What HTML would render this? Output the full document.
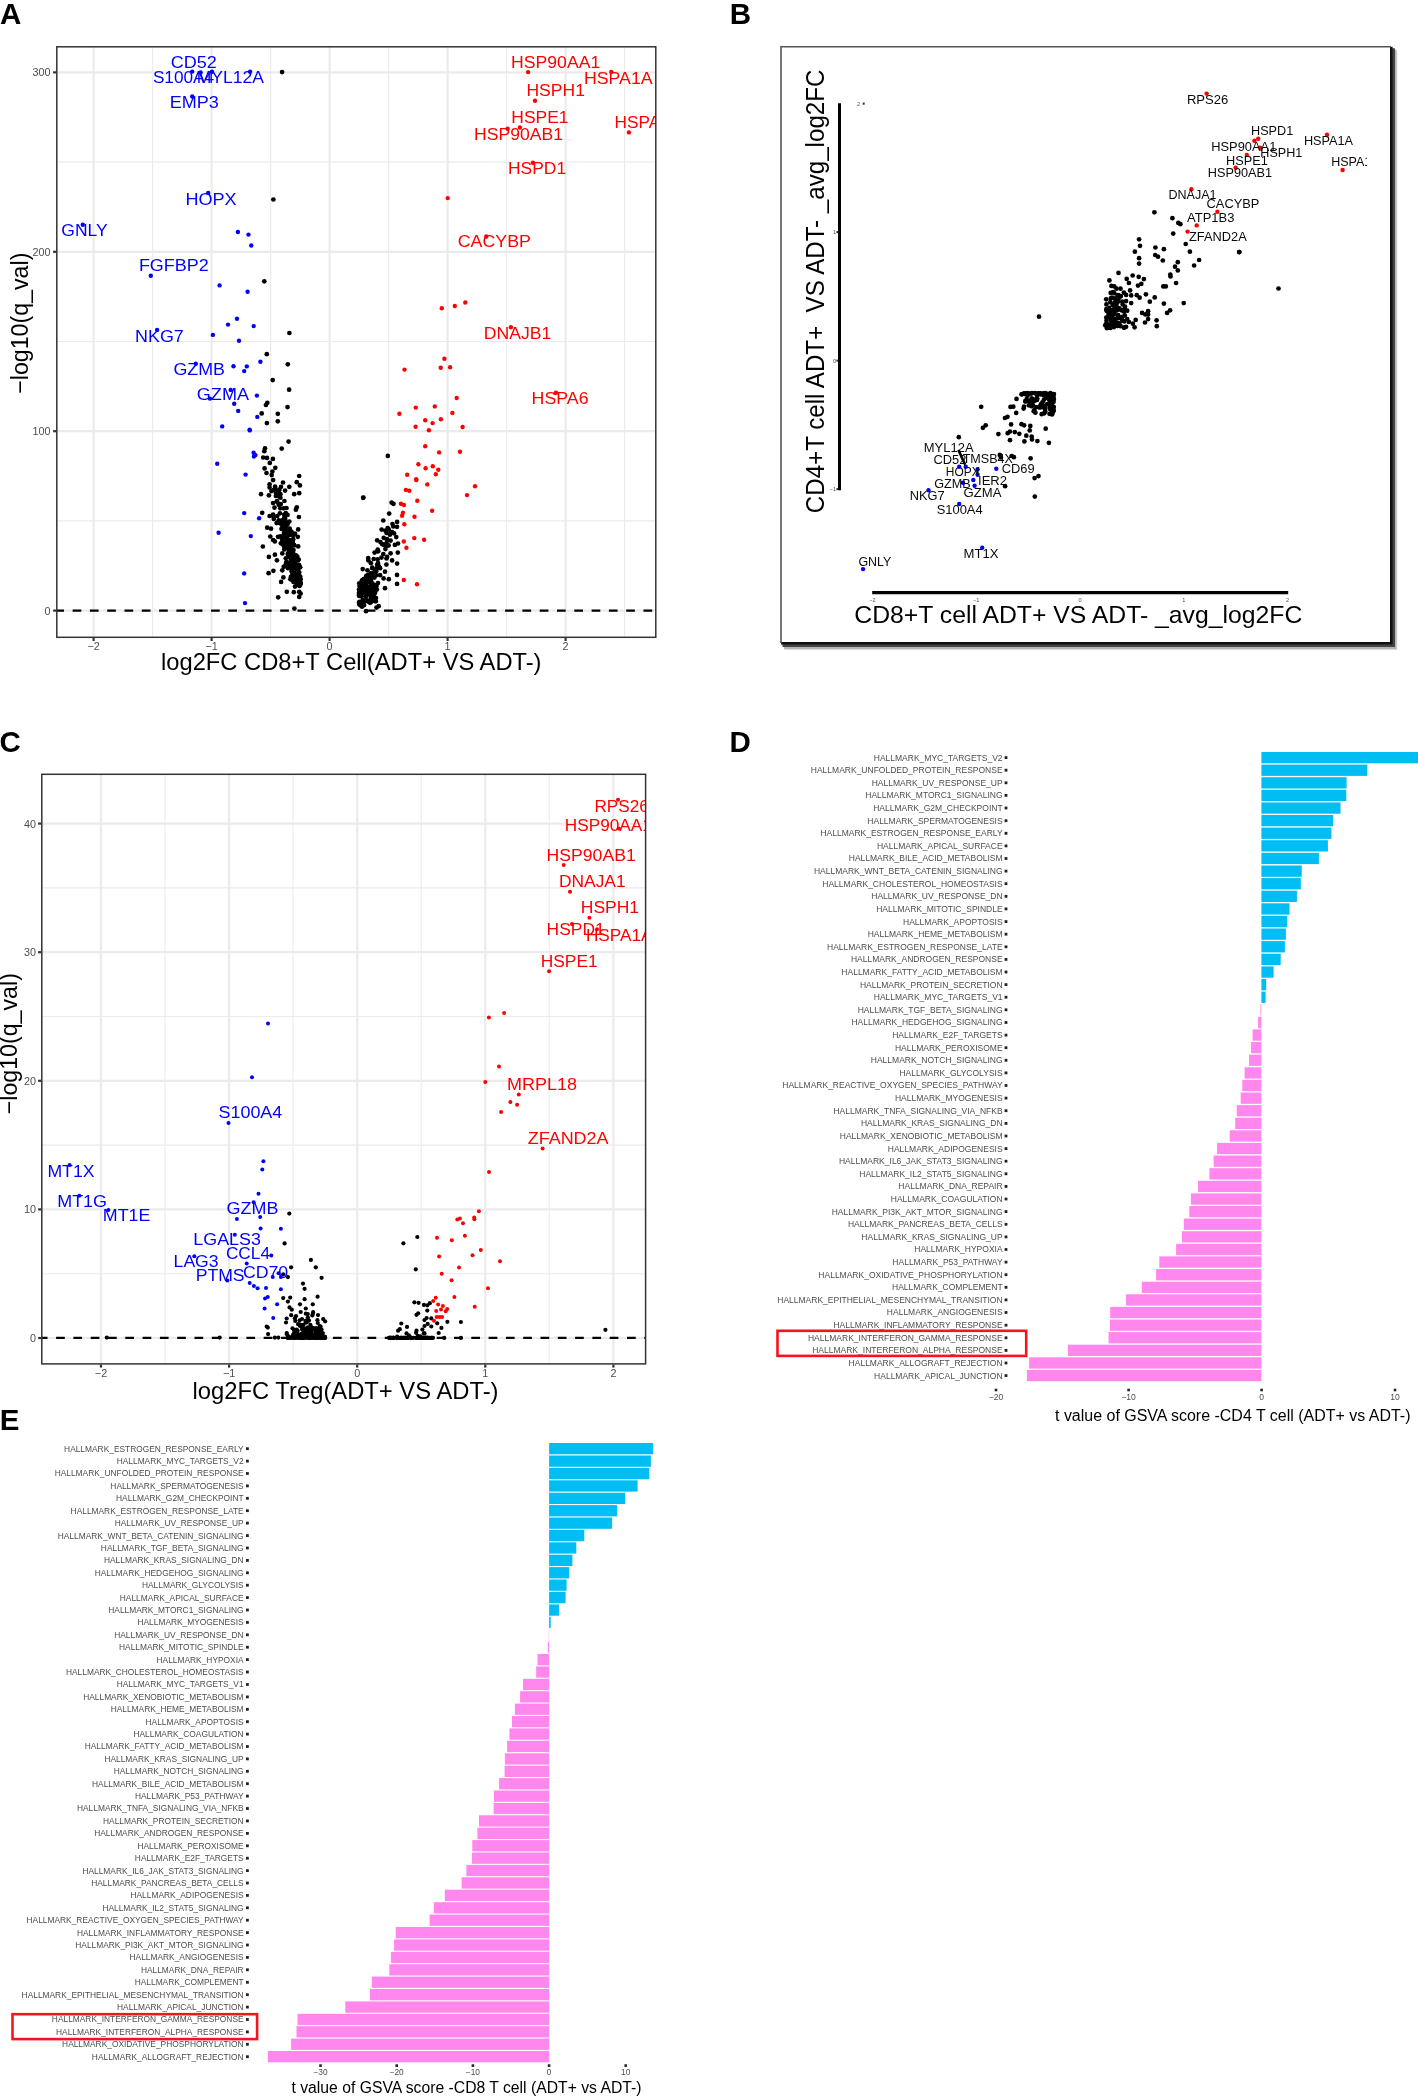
<!DOCTYPE html>
<html><head><meta charset="utf-8"><title>Figure</title><style>html,body{margin:0;padding:0;background:#fff}svg{display:block;will-change:transform}</style></head><body>
<svg width="1418" height="2096" viewBox="0 0 1418 2096" font-family="'Liberation Sans', Arial, Helvetica, sans-serif">
<rect width="1418" height="2096" fill="#fff"/>
<text x="-0.1" y="24.4" font-size="29.5" fill="#000" font-weight="bold">A</text>
<text x="729.8" y="24.4" font-size="29.5" fill="#000" font-weight="bold">B</text>
<text x="-0.4" y="751.6" font-size="29.5" fill="#000" font-weight="bold">C</text>
<text x="729.6" y="751.5" font-size="29.5" fill="#000" font-weight="bold">D</text>
<text x="-0.3" y="1429.6" font-size="29.5" fill="#000" font-weight="bold">E</text>
<clipPath id="clipA"><rect x="56.8" y="46.8" width="599.0" height="590.5"/></clipPath>
<g clip-path="url(#clipA)">
<g stroke="#ebebeb" fill="none"><path d="M152.6 46.8V637.3" stroke-width="1.1"/><path d="M270.6 46.8V637.3" stroke-width="1.1"/><path d="M388.6 46.8V637.3" stroke-width="1.1"/><path d="M506.6 46.8V637.3" stroke-width="1.1"/><path d="M624.6 46.8V637.3" stroke-width="1.1"/><path d="M56.8 520.9H655.8" stroke-width="1.1"/><path d="M56.8 341.5H655.8" stroke-width="1.1"/><path d="M56.8 162.1H655.8" stroke-width="1.1"/><path d="M93.6 46.8V637.3" stroke-width="2.2"/><path d="M211.6 46.8V637.3" stroke-width="2.2"/><path d="M329.6 46.8V637.3" stroke-width="2.2"/><path d="M447.6 46.8V637.3" stroke-width="2.2"/><path d="M565.6 46.8V637.3" stroke-width="2.2"/><path d="M56.8 610.6H655.8" stroke-width="2.2"/><path d="M56.8 431.2H655.8" stroke-width="2.2"/><path d="M56.8 251.8H655.8" stroke-width="2.2"/><path d="M56.8 72.4H655.8" stroke-width="2.2"/></g>
</g>
<g clip-path="url(#clipA)">
<path d="M55.3 610.6H655.8" stroke="#000" stroke-width="2.1" stroke-dasharray="8.7 8.6" fill="none"/>
<g fill="#000000"><circle cx="297.8" cy="569.2" r="2.35"/><circle cx="299.1" cy="582.2" r="2.35"/><circle cx="298.3" cy="567.0" r="2.35"/><circle cx="299.5" cy="584.1" r="2.35"/><circle cx="295.1" cy="563.5" r="2.35"/><circle cx="294.5" cy="563.9" r="2.35"/><circle cx="291.1" cy="543.0" r="2.35"/><circle cx="293.3" cy="553.4" r="2.35"/><circle cx="285.1" cy="536.7" r="2.35"/><circle cx="286.2" cy="535.2" r="2.35"/><circle cx="299.8" cy="583.6" r="2.35"/><circle cx="294.7" cy="578.5" r="2.35"/><circle cx="295.0" cy="579.9" r="2.35"/><circle cx="299.0" cy="576.6" r="2.35"/><circle cx="288.5" cy="552.8" r="2.35"/><circle cx="300.5" cy="582.7" r="2.35"/><circle cx="294.7" cy="575.3" r="2.35"/><circle cx="291.8" cy="569.7" r="2.35"/><circle cx="289.3" cy="555.6" r="2.35"/><circle cx="290.6" cy="544.7" r="2.35"/><circle cx="291.0" cy="549.7" r="2.35"/><circle cx="297.2" cy="558.7" r="2.35"/><circle cx="288.5" cy="540.5" r="2.35"/><circle cx="284.9" cy="535.0" r="2.35"/><circle cx="292.2" cy="579.9" r="2.35"/><circle cx="299.6" cy="578.1" r="2.35"/><circle cx="298.0" cy="560.6" r="2.35"/><circle cx="291.3" cy="546.2" r="2.35"/><circle cx="294.3" cy="556.2" r="2.35"/><circle cx="288.8" cy="549.8" r="2.35"/><circle cx="288.7" cy="555.1" r="2.35"/><circle cx="287.5" cy="542.3" r="2.35"/><circle cx="283.2" cy="536.9" r="2.35"/><circle cx="298.6" cy="582.8" r="2.35"/><circle cx="284.3" cy="549.5" r="2.35"/><circle cx="280.9" cy="543.3" r="2.35"/><circle cx="291.6" cy="571.2" r="2.35"/><circle cx="299.3" cy="584.8" r="2.35"/><circle cx="297.5" cy="577.3" r="2.35"/><circle cx="290.8" cy="546.1" r="2.35"/><circle cx="297.1" cy="579.3" r="2.35"/><circle cx="292.3" cy="540.7" r="2.35"/><circle cx="293.5" cy="581.8" r="2.35"/><circle cx="290.1" cy="540.1" r="2.35"/><circle cx="291.3" cy="543.4" r="2.35"/><circle cx="291.9" cy="564.4" r="2.35"/><circle cx="300.2" cy="567.3" r="2.35"/><circle cx="290.9" cy="576.8" r="2.35"/><circle cx="296.4" cy="573.9" r="2.35"/><circle cx="295.9" cy="555.4" r="2.35"/><circle cx="299.2" cy="572.3" r="2.35"/><circle cx="294.5" cy="566.8" r="2.35"/><circle cx="297.3" cy="556.6" r="2.35"/><circle cx="291.3" cy="559.2" r="2.35"/><circle cx="291.2" cy="553.9" r="2.35"/><circle cx="287.6" cy="539.2" r="2.35"/><circle cx="294.2" cy="545.4" r="2.35"/><circle cx="289.9" cy="565.6" r="2.35"/><circle cx="297.9" cy="565.3" r="2.35"/><circle cx="300.5" cy="582.8" r="2.35"/><circle cx="297.8" cy="575.1" r="2.35"/><circle cx="300.6" cy="583.3" r="2.35"/><circle cx="299.4" cy="586.0" r="2.35"/><circle cx="295.8" cy="567.1" r="2.35"/><circle cx="300.3" cy="584.7" r="2.35"/><circle cx="292.4" cy="572.9" r="2.35"/><circle cx="293.5" cy="567.9" r="2.35"/><circle cx="290.5" cy="541.9" r="2.35"/><circle cx="283.8" cy="534.4" r="2.35"/><circle cx="298.4" cy="581.5" r="2.35"/><circle cx="295.9" cy="580.7" r="2.35"/><circle cx="291.6" cy="542.9" r="2.35"/><circle cx="299.1" cy="577.6" r="2.35"/><circle cx="298.1" cy="578.4" r="2.35"/><circle cx="296.6" cy="557.8" r="2.35"/><circle cx="288.4" cy="535.1" r="2.35"/><circle cx="288.1" cy="541.1" r="2.35"/><circle cx="292.0" cy="566.9" r="2.35"/><circle cx="297.2" cy="577.3" r="2.35"/><circle cx="285.8" cy="545.5" r="2.35"/><circle cx="295.9" cy="568.9" r="2.35"/><circle cx="293.8" cy="534.8" r="2.35"/><circle cx="291.3" cy="541.7" r="2.35"/><circle cx="284.5" cy="547.5" r="2.35"/><circle cx="292.8" cy="574.2" r="2.35"/><circle cx="297.8" cy="584.5" r="2.35"/><circle cx="297.7" cy="584.5" r="2.35"/><circle cx="293.5" cy="550.0" r="2.35"/><circle cx="280.4" cy="536.3" r="2.35"/><circle cx="290.2" cy="534.6" r="2.35"/><circle cx="286.4" cy="536.3" r="2.35"/><circle cx="297.8" cy="574.2" r="2.35"/><circle cx="297.7" cy="575.8" r="2.35"/><circle cx="293.2" cy="539.2" r="2.35"/><circle cx="284.3" cy="542.3" r="2.35"/><circle cx="290.3" cy="544.4" r="2.35"/><circle cx="293.6" cy="581.6" r="2.35"/><circle cx="283.6" cy="545.3" r="2.35"/><circle cx="288.1" cy="547.0" r="2.35"/><circle cx="290.1" cy="545.0" r="2.35"/><circle cx="297.7" cy="568.7" r="2.35"/><circle cx="285.5" cy="565.4" r="2.35"/><circle cx="299.2" cy="565.1" r="2.35"/><circle cx="294.8" cy="577.2" r="2.35"/><circle cx="298.3" cy="579.4" r="2.35"/><circle cx="298.2" cy="578.4" r="2.35"/><circle cx="286.0" cy="535.0" r="2.35"/><circle cx="289.8" cy="557.5" r="2.35"/><circle cx="298.8" cy="579.2" r="2.35"/><circle cx="293.5" cy="558.6" r="2.35"/><circle cx="281.9" cy="537.5" r="2.35"/><circle cx="292.2" cy="543.0" r="2.35"/><circle cx="296.1" cy="575.0" r="2.35"/><circle cx="298.7" cy="573.5" r="2.35"/><circle cx="291.8" cy="555.5" r="2.35"/><circle cx="300.6" cy="579.2" r="2.35"/><circle cx="286.2" cy="538.7" r="2.35"/><circle cx="295.1" cy="555.7" r="2.35"/><circle cx="281.9" cy="539.0" r="2.35"/><circle cx="296.6" cy="559.9" r="2.35"/><circle cx="292.0" cy="558.3" r="2.35"/><circle cx="293.6" cy="563.1" r="2.35"/><circle cx="300.2" cy="576.5" r="2.35"/><circle cx="293.4" cy="561.4" r="2.35"/><circle cx="287.7" cy="548.3" r="2.35"/><circle cx="291.7" cy="559.0" r="2.35"/><circle cx="292.7" cy="557.1" r="2.35"/><circle cx="290.8" cy="556.9" r="2.35"/><circle cx="294.8" cy="573.1" r="2.35"/><circle cx="298.7" cy="559.6" r="2.35"/><circle cx="292.8" cy="556.8" r="2.35"/><circle cx="286.1" cy="563.0" r="2.35"/><circle cx="287.7" cy="554.1" r="2.35"/><circle cx="290.7" cy="550.0" r="2.35"/><circle cx="289.7" cy="562.5" r="2.35"/><circle cx="275.0" cy="488.9" r="2.35"/><circle cx="284.4" cy="501.0" r="2.35"/><circle cx="279.3" cy="523.0" r="2.35"/><circle cx="286.5" cy="508.0" r="2.35"/><circle cx="284.1" cy="529.1" r="2.35"/><circle cx="285.3" cy="529.9" r="2.35"/><circle cx="285.3" cy="524.0" r="2.35"/><circle cx="284.3" cy="532.3" r="2.35"/><circle cx="271.4" cy="491.1" r="2.35"/><circle cx="285.0" cy="528.3" r="2.35"/><circle cx="281.5" cy="528.9" r="2.35"/><circle cx="278.7" cy="491.9" r="2.35"/><circle cx="275.2" cy="488.4" r="2.35"/><circle cx="273.2" cy="516.1" r="2.35"/><circle cx="278.0" cy="494.4" r="2.35"/><circle cx="282.4" cy="527.9" r="2.35"/><circle cx="285.2" cy="519.0" r="2.35"/><circle cx="283.3" cy="526.2" r="2.35"/><circle cx="292.4" cy="535.0" r="2.35"/><circle cx="280.2" cy="508.3" r="2.35"/><circle cx="283.9" cy="519.4" r="2.35"/><circle cx="278.7" cy="504.8" r="2.35"/><circle cx="275.1" cy="486.7" r="2.35"/><circle cx="279.2" cy="496.6" r="2.35"/><circle cx="284.3" cy="522.7" r="2.35"/><circle cx="287.9" cy="534.0" r="2.35"/><circle cx="283.8" cy="529.5" r="2.35"/><circle cx="287.5" cy="514.9" r="2.35"/><circle cx="281.5" cy="523.1" r="2.35"/><circle cx="289.7" cy="528.5" r="2.35"/><circle cx="276.9" cy="501.0" r="2.35"/><circle cx="291.4" cy="531.5" r="2.35"/><circle cx="284.2" cy="514.7" r="2.35"/><circle cx="291.3" cy="532.4" r="2.35"/><circle cx="275.9" cy="495.9" r="2.35"/><circle cx="287.6" cy="531.8" r="2.35"/><circle cx="275.9" cy="492.9" r="2.35"/><circle cx="279.9" cy="513.3" r="2.35"/><circle cx="279.4" cy="489.7" r="2.35"/><circle cx="287.2" cy="522.6" r="2.35"/><circle cx="287.7" cy="524.1" r="2.35"/><circle cx="287.1" cy="530.5" r="2.35"/><circle cx="286.3" cy="525.9" r="2.35"/><circle cx="282.1" cy="520.4" r="2.35"/><circle cx="289.3" cy="521.5" r="2.35"/><circle cx="366.4" cy="581.1" r="2.35"/><circle cx="363.7" cy="579.0" r="2.35"/><circle cx="362.1" cy="580.4" r="2.35"/><circle cx="370.9" cy="588.8" r="2.35"/><circle cx="361.2" cy="593.7" r="2.35"/><circle cx="375.1" cy="570.9" r="2.35"/><circle cx="372.6" cy="583.7" r="2.35"/><circle cx="366.3" cy="600.4" r="2.35"/><circle cx="364.4" cy="592.1" r="2.35"/><circle cx="370.0" cy="602.8" r="2.35"/><circle cx="363.6" cy="601.9" r="2.35"/><circle cx="370.3" cy="591.8" r="2.35"/><circle cx="364.6" cy="587.4" r="2.35"/><circle cx="359.5" cy="586.0" r="2.35"/><circle cx="359.6" cy="601.9" r="2.35"/><circle cx="362.2" cy="584.4" r="2.35"/><circle cx="359.8" cy="604.4" r="2.35"/><circle cx="373.7" cy="590.6" r="2.35"/><circle cx="362.6" cy="586.2" r="2.35"/><circle cx="362.8" cy="592.1" r="2.35"/><circle cx="360.7" cy="593.3" r="2.35"/><circle cx="362.3" cy="606.3" r="2.35"/><circle cx="375.9" cy="585.0" r="2.35"/><circle cx="362.0" cy="606.5" r="2.35"/><circle cx="363.0" cy="589.0" r="2.35"/><circle cx="359.0" cy="592.9" r="2.35"/><circle cx="365.9" cy="591.0" r="2.35"/><circle cx="361.4" cy="594.4" r="2.35"/><circle cx="359.0" cy="589.8" r="2.35"/><circle cx="359.9" cy="592.7" r="2.35"/><circle cx="359.3" cy="583.3" r="2.35"/><circle cx="363.0" cy="585.6" r="2.35"/><circle cx="368.0" cy="590.2" r="2.35"/><circle cx="371.2" cy="591.9" r="2.35"/><circle cx="370.5" cy="599.3" r="2.35"/><circle cx="364.4" cy="587.1" r="2.35"/><circle cx="376.2" cy="571.4" r="2.35"/><circle cx="370.7" cy="591.8" r="2.35"/><circle cx="359.4" cy="604.5" r="2.35"/><circle cx="374.2" cy="588.9" r="2.35"/><circle cx="370.9" cy="597.0" r="2.35"/><circle cx="360.5" cy="595.5" r="2.35"/><circle cx="366.4" cy="600.3" r="2.35"/><circle cx="372.3" cy="596.6" r="2.35"/><circle cx="367.9" cy="601.2" r="2.35"/><circle cx="369.9" cy="593.9" r="2.35"/><circle cx="361.8" cy="581.1" r="2.35"/><circle cx="360.4" cy="591.2" r="2.35"/><circle cx="360.0" cy="604.1" r="2.35"/><circle cx="367.4" cy="593.5" r="2.35"/><circle cx="368.7" cy="594.3" r="2.35"/><circle cx="366.2" cy="576.1" r="2.35"/><circle cx="372.2" cy="594.2" r="2.35"/><circle cx="366.4" cy="591.5" r="2.35"/><circle cx="369.4" cy="574.9" r="2.35"/><circle cx="370.9" cy="579.3" r="2.35"/><circle cx="359.7" cy="589.3" r="2.35"/><circle cx="370.8" cy="578.0" r="2.35"/><circle cx="371.0" cy="602.1" r="2.35"/><circle cx="366.2" cy="587.2" r="2.35"/><circle cx="366.0" cy="596.2" r="2.35"/><circle cx="371.6" cy="590.4" r="2.35"/><circle cx="369.1" cy="575.6" r="2.35"/><circle cx="360.6" cy="588.2" r="2.35"/><circle cx="371.1" cy="580.9" r="2.35"/><circle cx="367.6" cy="575.0" r="2.35"/><circle cx="359.5" cy="589.5" r="2.35"/><circle cx="369.6" cy="594.0" r="2.35"/><circle cx="369.7" cy="581.6" r="2.35"/><circle cx="366.7" cy="589.3" r="2.35"/><circle cx="365.7" cy="579.9" r="2.35"/><circle cx="374.2" cy="574.8" r="2.35"/><circle cx="376.0" cy="598.1" r="2.35"/><circle cx="359.1" cy="594.8" r="2.35"/><circle cx="372.7" cy="601.0" r="2.35"/><circle cx="365.4" cy="584.5" r="2.35"/><circle cx="361.5" cy="606.2" r="2.35"/><circle cx="361.5" cy="596.4" r="2.35"/><circle cx="360.5" cy="595.5" r="2.35"/><circle cx="375.5" cy="571.4" r="2.35"/><circle cx="372.7" cy="586.1" r="2.35"/><circle cx="374.1" cy="591.5" r="2.35"/><circle cx="361.8" cy="604.8" r="2.35"/><circle cx="366.1" cy="576.8" r="2.35"/><circle cx="359.0" cy="595.8" r="2.35"/><circle cx="365.5" cy="585.5" r="2.35"/><circle cx="360.5" cy="590.7" r="2.35"/><circle cx="363.1" cy="602.4" r="2.35"/><circle cx="359.0" cy="602.5" r="2.35"/><circle cx="373.1" cy="573.2" r="2.35"/><circle cx="374.9" cy="591.3" r="2.35"/><circle cx="374.4" cy="577.6" r="2.35"/><circle cx="364.1" cy="589.2" r="2.35"/><circle cx="376.5" cy="586.1" r="2.35"/><circle cx="363.9" cy="590.3" r="2.35"/><circle cx="362.5" cy="580.9" r="2.35"/><circle cx="360.0" cy="604.1" r="2.35"/><circle cx="362.7" cy="605.3" r="2.35"/><circle cx="362.1" cy="587.3" r="2.35"/><circle cx="366.6" cy="581.2" r="2.35"/><circle cx="364.1" cy="605.1" r="2.35"/><circle cx="374.0" cy="595.1" r="2.35"/><circle cx="368.8" cy="601.3" r="2.35"/><circle cx="375.2" cy="585.6" r="2.35"/><circle cx="370.6" cy="573.3" r="2.35"/><circle cx="370.9" cy="585.6" r="2.35"/><circle cx="371.3" cy="591.5" r="2.35"/><circle cx="362.7" cy="580.8" r="2.35"/><circle cx="374.9" cy="571.8" r="2.35"/><circle cx="365.8" cy="586.4" r="2.35"/><circle cx="362.8" cy="599.8" r="2.35"/><circle cx="376.0" cy="575.3" r="2.35"/><circle cx="369.3" cy="582.2" r="2.35"/><circle cx="367.4" cy="586.6" r="2.35"/><circle cx="360.9" cy="585.5" r="2.35"/><circle cx="361.5" cy="605.2" r="2.35"/><circle cx="366.3" cy="582.4" r="2.35"/><circle cx="374.5" cy="600.9" r="2.35"/><circle cx="365.4" cy="580.8" r="2.35"/><circle cx="361.2" cy="583.3" r="2.35"/><circle cx="363.6" cy="581.1" r="2.35"/><circle cx="361.9" cy="587.2" r="2.35"/><circle cx="367.7" cy="601.2" r="2.35"/><circle cx="371.2" cy="584.2" r="2.35"/><circle cx="364.8" cy="592.4" r="2.35"/><circle cx="377.6" cy="559.3" r="2.35"/><circle cx="377.3" cy="564.7" r="2.35"/><circle cx="397.0" cy="526.8" r="2.35"/><circle cx="388.6" cy="545.4" r="2.35"/><circle cx="391.3" cy="532.5" r="2.35"/><circle cx="378.8" cy="566.3" r="2.35"/><circle cx="368.2" cy="558.0" r="2.35"/><circle cx="394.0" cy="533.3" r="2.35"/><circle cx="392.0" cy="532.0" r="2.35"/><circle cx="386.9" cy="541.0" r="2.35"/><circle cx="385.4" cy="530.7" r="2.35"/><circle cx="370.0" cy="580.0" r="2.35"/><circle cx="386.5" cy="558.5" r="2.35"/><circle cx="386.6" cy="532.9" r="2.35"/><circle cx="393.3" cy="526.5" r="2.35"/><circle cx="375.1" cy="571.5" r="2.35"/><circle cx="377.5" cy="551.3" r="2.35"/><circle cx="377.1" cy="540.3" r="2.35"/><circle cx="385.7" cy="544.4" r="2.35"/><circle cx="377.7" cy="549.7" r="2.35"/><circle cx="370.7" cy="577.8" r="2.35"/><circle cx="388.7" cy="529.4" r="2.35"/><circle cx="384.3" cy="544.5" r="2.35"/><circle cx="377.6" cy="566.2" r="2.35"/><circle cx="384.2" cy="545.0" r="2.35"/><circle cx="368.6" cy="576.1" r="2.35"/><circle cx="378.2" cy="551.2" r="2.35"/><circle cx="372.3" cy="567.7" r="2.35"/></g>
<g fill="#000000"><circle cx="387.8" cy="455.9" r="2.35"/><circle cx="363.3" cy="497.6" r="2.35"/><circle cx="391.6" cy="502.6" r="2.35"/><circle cx="393.5" cy="503.8" r="2.35"/><circle cx="389.2" cy="513.6" r="2.35"/><circle cx="383.3" cy="520.5" r="2.35"/><circle cx="397.1" cy="521.9" r="2.35"/><circle cx="392.5" cy="524.1" r="2.35"/><circle cx="387.7" cy="528.0" r="2.35"/><circle cx="381.6" cy="529.6" r="2.35"/><circle cx="389.9" cy="534.7" r="2.35"/><circle cx="396.3" cy="537.1" r="2.35"/><circle cx="383.7" cy="537.8" r="2.35"/><circle cx="387.1" cy="539.2" r="2.35"/><circle cx="390.6" cy="540.6" r="2.35"/><circle cx="380.4" cy="542.1" r="2.35"/><circle cx="382.2" cy="544.2" r="2.35"/><circle cx="394.9" cy="544.9" r="2.35"/><circle cx="398.0" cy="543.5" r="2.35"/><circle cx="387.1" cy="545.6" r="2.35"/><circle cx="385.4" cy="549.1" r="2.35"/><circle cx="374.6" cy="552.6" r="2.35"/><circle cx="397.8" cy="552.6" r="2.35"/><circle cx="383.3" cy="554.0" r="2.35"/><circle cx="390.6" cy="553.3" r="2.35"/><circle cx="387.1" cy="556.9" r="2.35"/><circle cx="381.5" cy="557.6" r="2.35"/><circle cx="392.1" cy="560.4" r="2.35"/><circle cx="368.4" cy="560.4" r="2.35"/><circle cx="373.7" cy="559.0" r="2.35"/><circle cx="370.9" cy="563.2" r="2.35"/><circle cx="378.0" cy="563.2" r="2.35"/><circle cx="386.4" cy="564.6" r="2.35"/><circle cx="397.1" cy="563.6" r="2.35"/><circle cx="362.7" cy="569.1" r="2.35"/><circle cx="367.4" cy="570.3" r="2.35"/><circle cx="372.3" cy="568.2" r="2.35"/><circle cx="376.5" cy="568.9" r="2.35"/><circle cx="380.1" cy="568.2" r="2.35"/><circle cx="385.0" cy="571.7" r="2.35"/><circle cx="397.0" cy="574.9" r="2.35"/><circle cx="380.1" cy="575.2" r="2.35"/><circle cx="373.7" cy="575.9" r="2.35"/><circle cx="383.6" cy="578.4" r="2.35"/><circle cx="388.8" cy="579.2" r="2.35"/><circle cx="397.1" cy="583.9" r="2.35"/><circle cx="378.0" cy="583.0" r="2.35"/><circle cx="385.0" cy="588.2" r="2.35"/><circle cx="376.8" cy="589.6" r="2.35"/><circle cx="375.1" cy="592.8" r="2.35"/><circle cx="373.7" cy="597.1" r="2.35"/><circle cx="375.8" cy="601.3" r="2.35"/><circle cx="378.7" cy="606.2" r="2.35"/><circle cx="376.5" cy="607.6" r="2.35"/><circle cx="366.0" cy="611.2" r="2.35"/><circle cx="289.4" cy="333.0" r="2.35"/><circle cx="266.8" cy="354.2" r="2.35"/><circle cx="287.8" cy="364.3" r="2.35"/><circle cx="272.7" cy="380.1" r="2.35"/><circle cx="289.1" cy="389.7" r="2.35"/><circle cx="267.3" cy="402.8" r="2.35"/><circle cx="265.9" cy="405.0" r="2.35"/><circle cx="287.5" cy="407.1" r="2.35"/><circle cx="261.7" cy="413.4" r="2.35"/><circle cx="277.8" cy="413.8" r="2.35"/><circle cx="277.8" cy="421.3" r="2.35"/><circle cx="266.9" cy="423.1" r="2.35"/><circle cx="282.1" cy="72.1" r="2.35"/><circle cx="273.4" cy="199.5" r="2.35"/><circle cx="264.3" cy="281.3" r="2.35"/><circle cx="288.6" cy="441.6" r="2.35"/><circle cx="281.7" cy="448.6" r="2.35"/><circle cx="265.0" cy="448.3" r="2.35"/><circle cx="264.3" cy="451.2" r="2.35"/><circle cx="263.2" cy="457.5" r="2.35"/><circle cx="267.0" cy="457.9" r="2.35"/><circle cx="272.9" cy="458.9" r="2.35"/><circle cx="269.8" cy="462.9" r="2.35"/><circle cx="275.3" cy="467.8" r="2.35"/><circle cx="264.6" cy="468.4" r="2.35"/><circle cx="272.4" cy="471.6" r="2.35"/><circle cx="266.5" cy="473.0" r="2.35"/><circle cx="271.7" cy="475.1" r="2.35"/><circle cx="299.2" cy="476.0" r="2.35"/><circle cx="273.1" cy="480.1" r="2.35"/><circle cx="283.0" cy="482.5" r="2.35"/><circle cx="296.8" cy="482.2" r="2.35"/><circle cx="269.6" cy="484.3" r="2.35"/><circle cx="299.9" cy="485.4" r="2.35"/><circle cx="281.0" cy="486.8" r="2.35"/><circle cx="289.3" cy="486.8" r="2.35"/><circle cx="285.1" cy="490.6" r="2.35"/><circle cx="269.6" cy="487.5" r="2.35"/><circle cx="273.8" cy="489.9" r="2.35"/><circle cx="277.3" cy="492.1" r="2.35"/><circle cx="261.0" cy="494.2" r="2.35"/><circle cx="268.9" cy="495.3" r="2.35"/><circle cx="280.4" cy="494.2" r="2.35"/><circle cx="294.2" cy="494.2" r="2.35"/><circle cx="299.2" cy="493.2" r="2.35"/><circle cx="280.4" cy="497.7" r="2.35"/><circle cx="363.2" cy="497.8" r="2.35"/><circle cx="273.1" cy="503.1" r="2.35"/><circle cx="277.3" cy="501.9" r="2.35"/><circle cx="280.8" cy="504.0" r="2.35"/><circle cx="274.5" cy="507.6" r="2.35"/><circle cx="283.7" cy="508.3" r="2.35"/><circle cx="296.8" cy="507.3" r="2.35"/><circle cx="295.9" cy="509.7" r="2.35"/><circle cx="262.2" cy="512.8" r="2.35"/><circle cx="285.8" cy="513.2" r="2.35"/><circle cx="269.6" cy="516.0" r="2.35"/><circle cx="273.1" cy="514.6" r="2.35"/><circle cx="277.3" cy="516.0" r="2.35"/><circle cx="284.4" cy="517.4" r="2.35"/><circle cx="298.9" cy="517.0" r="2.35"/><circle cx="273.8" cy="518.9" r="2.35"/><circle cx="278.7" cy="520.3" r="2.35"/><circle cx="283.7" cy="521.0" r="2.35"/><circle cx="276.6" cy="523.1" r="2.35"/><circle cx="281.6" cy="524.5" r="2.35"/><circle cx="267.2" cy="527.7" r="2.35"/><circle cx="271.0" cy="528.7" r="2.35"/><circle cx="298.2" cy="529.4" r="2.35"/><circle cx="282.3" cy="528.7" r="2.35"/><circle cx="285.8" cy="530.8" r="2.35"/><circle cx="290.0" cy="531.6" r="2.35"/><circle cx="295.0" cy="533.7" r="2.35"/><circle cx="270.3" cy="536.5" r="2.35"/><circle cx="278.0" cy="536.8" r="2.35"/><circle cx="284.4" cy="535.8" r="2.35"/><circle cx="288.6" cy="535.1" r="2.35"/><circle cx="297.8" cy="536.8" r="2.35"/><circle cx="273.1" cy="540.0" r="2.35"/><circle cx="274.8" cy="541.4" r="2.35"/><circle cx="282.3" cy="542.1" r="2.35"/><circle cx="287.2" cy="541.4" r="2.35"/><circle cx="292.8" cy="542.1" r="2.35"/><circle cx="262.9" cy="546.5" r="2.35"/><circle cx="284.4" cy="544.2" r="2.35"/><circle cx="289.3" cy="545.7" r="2.35"/><circle cx="294.2" cy="545.0" r="2.35"/><circle cx="298.2" cy="546.4" r="2.35"/><circle cx="274.9" cy="554.7" r="2.35"/><circle cx="268.9" cy="556.9" r="2.35"/><circle cx="276.9" cy="560.3" r="2.35"/><circle cx="282.3" cy="553.4" r="2.35"/><circle cx="285.8" cy="558.3" r="2.35"/><circle cx="286.5" cy="561.9" r="2.35"/><circle cx="283.7" cy="566.8" r="2.35"/><circle cx="287.9" cy="568.2" r="2.35"/><circle cx="282.3" cy="570.3" r="2.35"/><circle cx="273.4" cy="570.8" r="2.35"/><circle cx="268.6" cy="573.2" r="2.35"/><circle cx="283.4" cy="577.4" r="2.35"/><circle cx="290.4" cy="579.2" r="2.35"/><circle cx="281.1" cy="581.9" r="2.35"/><circle cx="295.0" cy="582.3" r="2.35"/><circle cx="299.6" cy="583.0" r="2.35"/><circle cx="295.0" cy="586.6" r="2.35"/><circle cx="286.8" cy="591.8" r="2.35"/><circle cx="293.8" cy="592.2" r="2.35"/><circle cx="299.2" cy="591.9" r="2.35"/><circle cx="300.6" cy="593.6" r="2.35"/><circle cx="299.2" cy="596.9" r="2.35"/><circle cx="278.2" cy="597.3" r="2.35"/><circle cx="294.4" cy="608.6" r="2.35"/></g>
<g fill="#ff0000"><circle cx="528.1" cy="72.1" r="2.2"/><circle cx="611.3" cy="71.9" r="2.2"/><circle cx="535.0" cy="100.7" r="2.2"/><circle cx="519.9" cy="127.5" r="2.2"/><circle cx="507.6" cy="128.8" r="2.2"/><circle cx="628.9" cy="132.4" r="2.2"/><circle cx="533.0" cy="162.7" r="2.2"/><circle cx="447.7" cy="198.1" r="2.2"/><circle cx="486.3" cy="236.5" r="2.2"/><circle cx="441.8" cy="308.2" r="2.2"/><circle cx="454.8" cy="306.0" r="2.2"/><circle cx="465.3" cy="302.5" r="2.2"/><circle cx="510.9" cy="327.2" r="2.2"/><circle cx="444.4" cy="358.7" r="2.2"/><circle cx="440.7" cy="367.7" r="2.2"/><circle cx="450.1" cy="367.3" r="2.2"/><circle cx="404.5" cy="369.6" r="2.2"/><circle cx="555.9" cy="392.7" r="2.2"/><circle cx="456.7" cy="398.0" r="2.2"/><circle cx="415.8" cy="407.6" r="2.2"/><circle cx="434.8" cy="406.4" r="2.2"/><circle cx="399.4" cy="413.7" r="2.2"/><circle cx="452.4" cy="412.9" r="2.2"/><circle cx="425.2" cy="420.3" r="2.2"/><circle cx="432.6" cy="423.1" r="2.2"/><circle cx="440.9" cy="419.3" r="2.2"/><circle cx="415.6" cy="426.8" r="2.2"/><circle cx="462.6" cy="427.0" r="2.2"/><circle cx="428.9" cy="430.3" r="2.2"/><circle cx="425.2" cy="446.3" r="2.2"/><circle cx="439.1" cy="452.4" r="2.2"/><circle cx="460.0" cy="451.8" r="2.2"/><circle cx="418.4" cy="464.3" r="2.2"/><circle cx="425.6" cy="468.3" r="2.2"/><circle cx="432.8" cy="466.3" r="2.2"/><circle cx="438.3" cy="469.8" r="2.2"/><circle cx="435.8" cy="474.3" r="2.2"/><circle cx="407.2" cy="474.7" r="2.2"/><circle cx="416.2" cy="479.2" r="2.2"/><circle cx="416.3" cy="480.0" r="2.2"/><circle cx="427.3" cy="484.4" r="2.2"/><circle cx="475.0" cy="486.2" r="2.2"/><circle cx="405.9" cy="489.9" r="2.2"/><circle cx="409.3" cy="490.7" r="2.2"/><circle cx="467.0" cy="495.1" r="2.2"/><circle cx="417.3" cy="500.7" r="2.2"/><circle cx="400.9" cy="503.7" r="2.2"/><circle cx="403.9" cy="505.0" r="2.2"/><circle cx="432.1" cy="510.7" r="2.2"/><circle cx="402.9" cy="512.7" r="2.2"/><circle cx="402.1" cy="515.8" r="2.2"/><circle cx="414.5" cy="516.8" r="2.2"/><circle cx="404.3" cy="524.3" r="2.2"/><circle cx="414.3" cy="538.1" r="2.2"/><circle cx="424.1" cy="539.8" r="2.2"/><circle cx="403.8" cy="541.5" r="2.2"/><circle cx="406.4" cy="547.7" r="2.2"/><circle cx="403.8" cy="580.0" r="2.2"/><circle cx="417.0" cy="584.2" r="2.2"/></g>
<g fill="#0000ff"><circle cx="247.6" cy="291.8" r="2.2"/><circle cx="237.0" cy="318.8" r="2.2"/><circle cx="228.0" cy="324.6" r="2.2"/><circle cx="253.7" cy="326.1" r="2.2"/><circle cx="157.1" cy="329.9" r="2.2"/><circle cx="212.9" cy="334.9" r="2.2"/><circle cx="239.0" cy="340.8" r="2.2"/><circle cx="260.4" cy="361.7" r="2.2"/><circle cx="233.5" cy="366.2" r="2.2"/><circle cx="246.8" cy="366.4" r="2.2"/><circle cx="244.2" cy="371.1" r="2.2"/><circle cx="195.8" cy="363.8" r="2.2"/><circle cx="230.7" cy="389.9" r="2.2"/><circle cx="209.9" cy="398.6" r="2.2"/><circle cx="256.9" cy="395.6" r="2.2"/><circle cx="234.2" cy="403.8" r="2.2"/><circle cx="238.2" cy="410.9" r="2.2"/><circle cx="257.3" cy="416.9" r="2.2"/><circle cx="222.2" cy="426.4" r="2.2"/><circle cx="249.6" cy="429.8" r="2.2"/><circle cx="192.2" cy="71.6" r="2.2"/><circle cx="200.6" cy="72.4" r="2.2"/><circle cx="212.0" cy="71.8" r="2.2"/><circle cx="250.1" cy="71.8" r="2.2"/><circle cx="192.2" cy="96.5" r="2.2"/><circle cx="208.2" cy="192.9" r="2.2"/><circle cx="82.8" cy="224.7" r="2.2"/><circle cx="237.9" cy="232.0" r="2.2"/><circle cx="248.5" cy="234.6" r="2.2"/><circle cx="251.3" cy="245.5" r="2.2"/><circle cx="150.8" cy="275.7" r="2.2"/><circle cx="219.6" cy="285.4" r="2.2"/><circle cx="249.8" cy="430.4" r="2.2"/><circle cx="253.6" cy="452.8" r="2.2"/><circle cx="255.5" cy="455.1" r="2.2"/><circle cx="253.9" cy="456.5" r="2.2"/><circle cx="217.2" cy="463.7" r="2.2"/><circle cx="245.6" cy="474.6" r="2.2"/><circle cx="244.2" cy="513.1" r="2.2"/><circle cx="259.1" cy="518.3" r="2.2"/><circle cx="218.6" cy="532.7" r="2.2"/><circle cx="250.8" cy="536.1" r="2.2"/><circle cx="244.2" cy="573.4" r="2.2"/><circle cx="245.0" cy="603.1" r="2.2"/></g>
<text x="511.1" y="67.6" font-size="17.2" fill="#ff0000" textLength="89.1" lengthAdjust="spacingAndGlyphs">HSP90AA1</text>
<text x="583.9" y="83.6" font-size="17.2" fill="#ff0000" textLength="68.7" lengthAdjust="spacingAndGlyphs">HSPA1A</text>
<text x="526.4" y="96.2" font-size="17.2" fill="#ff0000" textLength="58.5" lengthAdjust="spacingAndGlyphs">HSPH1</text>
<text x="511.3" y="122.8" font-size="17.2" fill="#ff0000" textLength="57.2" lengthAdjust="spacingAndGlyphs">HSPE1</text>
<text x="474.1" y="139.8" font-size="17.2" fill="#ff0000" textLength="88.9" lengthAdjust="spacingAndGlyphs">HSP90AB1</text>
<text x="614.6" y="127.9" font-size="17.2" fill="#ff0000">HSPA1B</text>
<text x="508.0" y="173.7" font-size="17.2" fill="#ff0000" textLength="58.1" lengthAdjust="spacingAndGlyphs">HSPD1</text>
<text x="457.7" y="247.0" font-size="17.2" fill="#ff0000" textLength="73.2" lengthAdjust="spacingAndGlyphs">CACYBP</text>
<text x="483.7" y="338.5" font-size="17.2" fill="#ff0000" textLength="67.6" lengthAdjust="spacingAndGlyphs">DNAJB1</text>
<text x="531.6" y="404.3" font-size="17.2" fill="#ff0000" textLength="57.0" lengthAdjust="spacingAndGlyphs">HSPA6</text>
<text x="170.7" y="67.5" font-size="17.2" fill="#0000ff" textLength="46.1" lengthAdjust="spacingAndGlyphs">CD52</text>
<text x="152.9" y="83.3" font-size="17.2" fill="#0000ff">S100A4</text>
<text x="196.7" y="83.3" font-size="17.2" fill="#0000ff" textLength="67.2" lengthAdjust="spacingAndGlyphs">MYL12A</text>
<text x="169.7" y="108.4" font-size="17.2" fill="#0000ff" textLength="49.1" lengthAdjust="spacingAndGlyphs">EMP3</text>
<text x="185.4" y="204.6" font-size="17.2" fill="#0000ff" textLength="51.2" lengthAdjust="spacingAndGlyphs">HOPX</text>
<text x="61.3" y="236.1" font-size="17.2" fill="#0000ff" textLength="46.3" lengthAdjust="spacingAndGlyphs">GNLY</text>
<text x="138.9" y="271.1" font-size="17.2" fill="#0000ff" textLength="69.8" lengthAdjust="spacingAndGlyphs">FGFBP2</text>
<text x="135.1" y="341.5" font-size="17.2" fill="#0000ff" textLength="48.7" lengthAdjust="spacingAndGlyphs">NKG7</text>
<text x="173.5" y="375.0" font-size="17.2" fill="#0000ff" textLength="51.5" lengthAdjust="spacingAndGlyphs">GZMB</text>
<text x="196.8" y="399.7" font-size="17.2" fill="#0000ff" textLength="52.2" lengthAdjust="spacingAndGlyphs">GZMA</text>
</g>
<rect x="56.8" y="46.8" width="599.0" height="590.5" fill="none" stroke="#333" stroke-width="1.5"/>
<g stroke="#333" stroke-width="2.2" fill="none"><path d="M93.6 638.0v3"/><path d="M211.6 638.0v3"/><path d="M329.6 638.0v3"/><path d="M447.6 638.0v3"/><path d="M565.6 638.0v3"/><path d="M56.099999999999994 610.6h-3"/><path d="M56.099999999999994 431.2h-3"/><path d="M56.099999999999994 251.8h-3"/><path d="M56.099999999999994 72.4h-3"/></g>
<text x="93.6" y="650.3" font-size="10.8" fill="#4d4d4d" text-anchor="middle">−2</text>
<text x="211.6" y="650.3" font-size="10.8" fill="#4d4d4d" text-anchor="middle">−1</text>
<text x="329.6" y="650.3" font-size="10.8" fill="#4d4d4d" text-anchor="middle">0</text>
<text x="447.6" y="650.3" font-size="10.8" fill="#4d4d4d" text-anchor="middle">1</text>
<text x="565.6" y="650.3" font-size="10.8" fill="#4d4d4d" text-anchor="middle">2</text>
<text x="50.6" y="614.5" font-size="10.8" fill="#4d4d4d" text-anchor="end">0</text>
<text x="50.6" y="435.1" font-size="10.8" fill="#4d4d4d" text-anchor="end">100</text>
<text x="50.6" y="255.7" font-size="10.8" fill="#4d4d4d" text-anchor="end">200</text>
<text x="50.6" y="76.3" font-size="10.8" fill="#4d4d4d" text-anchor="end">300</text>
<text x="161.0" y="670.3" font-size="23.7" fill="#000" textLength="380.5" lengthAdjust="spacingAndGlyphs">log2FC CD8+T Cell(ADT+ VS ADT-)</text>
<text x="27.8" y="393.8" font-size="23.5" fill="#000" textLength="141.2" lengthAdjust="spacingAndGlyphs" transform="rotate(-90 27.8 393.8)">−log10(q_val)</text>
<clipPath id="clipC"><rect x="41.8" y="774.3" width="603.8000000000001" height="589.6000000000001"/></clipPath>
<g clip-path="url(#clipC)">
<g stroke="#ebebeb" fill="none"><path d="M165.1 774.3V1363.9" stroke-width="1.1"/><path d="M293.1 774.3V1363.9" stroke-width="1.1"/><path d="M421.2 774.3V1363.9" stroke-width="1.1"/><path d="M549.3 774.3V1363.9" stroke-width="1.1"/><path d="M41.8 1273.7H645.6" stroke-width="1.1"/><path d="M41.8 1145.1H645.6" stroke-width="1.1"/><path d="M41.8 1016.5H645.6" stroke-width="1.1"/><path d="M41.8 887.9H645.6" stroke-width="1.1"/><path d="M101.0 774.3V1363.9" stroke-width="2.2"/><path d="M229.1 774.3V1363.9" stroke-width="2.2"/><path d="M357.2 774.3V1363.9" stroke-width="2.2"/><path d="M485.3 774.3V1363.9" stroke-width="2.2"/><path d="M613.4 774.3V1363.9" stroke-width="2.2"/><path d="M41.8 1338.0H645.6" stroke-width="2.2"/><path d="M41.8 1209.4H645.6" stroke-width="2.2"/><path d="M41.8 1080.8H645.6" stroke-width="2.2"/><path d="M41.8 952.2H645.6" stroke-width="2.2"/><path d="M41.8 823.6H645.6" stroke-width="2.2"/></g>
</g>
<g clip-path="url(#clipC)">
<path d="M38.8 1337.9H645.6" stroke="#000" stroke-width="2.1" stroke-dasharray="8.7 8.6" fill="none"/>
<g fill="#000000"><circle cx="307.9" cy="1337.1" r="2.1"/><circle cx="286.9" cy="1334.2" r="2.1"/><circle cx="316.6" cy="1337.2" r="2.1"/><circle cx="322.6" cy="1335.5" r="2.1"/><circle cx="319.5" cy="1336.7" r="2.1"/><circle cx="302.9" cy="1335.6" r="2.1"/><circle cx="314.8" cy="1337.1" r="2.1"/><circle cx="297.0" cy="1336.4" r="2.1"/><circle cx="308.3" cy="1336.1" r="2.1"/><circle cx="302.7" cy="1337.3" r="2.1"/><circle cx="309.5" cy="1333.0" r="2.1"/><circle cx="303.2" cy="1337.0" r="2.1"/><circle cx="297.9" cy="1337.0" r="2.1"/><circle cx="314.6" cy="1337.5" r="2.1"/><circle cx="317.4" cy="1335.6" r="2.1"/><circle cx="319.9" cy="1331.6" r="2.1"/><circle cx="316.3" cy="1336.2" r="2.1"/><circle cx="308.9" cy="1336.2" r="2.1"/><circle cx="302.7" cy="1333.9" r="2.1"/><circle cx="309.3" cy="1337.1" r="2.1"/><circle cx="313.4" cy="1336.8" r="2.1"/><circle cx="311.2" cy="1332.6" r="2.1"/><circle cx="313.2" cy="1336.9" r="2.1"/><circle cx="294.9" cy="1337.1" r="2.1"/><circle cx="310.8" cy="1336.8" r="2.1"/><circle cx="314.8" cy="1337.5" r="2.1"/><circle cx="297.5" cy="1332.9" r="2.1"/><circle cx="315.6" cy="1336.2" r="2.1"/><circle cx="303.8" cy="1334.7" r="2.1"/><circle cx="306.1" cy="1336.5" r="2.1"/><circle cx="320.0" cy="1333.7" r="2.1"/><circle cx="315.5" cy="1337.0" r="2.1"/><circle cx="302.3" cy="1337.0" r="2.1"/><circle cx="288.4" cy="1336.4" r="2.1"/><circle cx="307.8" cy="1327.4" r="2.1"/><circle cx="302.7" cy="1334.5" r="2.1"/><circle cx="298.8" cy="1337.3" r="2.1"/><circle cx="309.1" cy="1337.5" r="2.1"/><circle cx="301.4" cy="1336.0" r="2.1"/><circle cx="297.8" cy="1337.5" r="2.1"/><circle cx="294.8" cy="1337.5" r="2.1"/><circle cx="309.9" cy="1331.9" r="2.1"/><circle cx="302.1" cy="1329.5" r="2.1"/><circle cx="306.7" cy="1335.2" r="2.1"/><circle cx="305.8" cy="1330.8" r="2.1"/><circle cx="308.6" cy="1337.2" r="2.1"/><circle cx="319.7" cy="1328.2" r="2.1"/><circle cx="304.8" cy="1332.7" r="2.1"/><circle cx="302.5" cy="1337.4" r="2.1"/><circle cx="293.2" cy="1336.9" r="2.1"/><circle cx="316.3" cy="1328.0" r="2.1"/><circle cx="316.3" cy="1337.3" r="2.1"/><circle cx="320.7" cy="1336.4" r="2.1"/><circle cx="296.5" cy="1329.7" r="2.1"/><circle cx="308.0" cy="1328.1" r="2.1"/><circle cx="318.5" cy="1333.0" r="2.1"/><circle cx="310.7" cy="1337.3" r="2.1"/><circle cx="308.6" cy="1330.2" r="2.1"/><circle cx="309.4" cy="1336.8" r="2.1"/><circle cx="306.5" cy="1334.4" r="2.1"/><circle cx="313.6" cy="1328.2" r="2.1"/><circle cx="312.8" cy="1336.6" r="2.1"/><circle cx="296.8" cy="1337.4" r="2.1"/><circle cx="305.9" cy="1337.1" r="2.1"/><circle cx="316.5" cy="1336.2" r="2.1"/><circle cx="303.2" cy="1333.1" r="2.1"/><circle cx="317.6" cy="1336.5" r="2.1"/><circle cx="309.3" cy="1337.0" r="2.1"/><circle cx="294.2" cy="1332.9" r="2.1"/><circle cx="316.4" cy="1337.6" r="2.1"/><circle cx="296.8" cy="1335.1" r="2.1"/><circle cx="319.6" cy="1333.5" r="2.1"/><circle cx="303.9" cy="1336.8" r="2.1"/><circle cx="312.9" cy="1336.4" r="2.1"/><circle cx="316.9" cy="1337.4" r="2.1"/><circle cx="305.9" cy="1336.2" r="2.1"/><circle cx="294.1" cy="1329.9" r="2.1"/><circle cx="311.4" cy="1334.7" r="2.1"/><circle cx="310.6" cy="1332.1" r="2.1"/><circle cx="311.7" cy="1337.0" r="2.1"/><circle cx="300.2" cy="1337.2" r="2.1"/><circle cx="306.0" cy="1336.8" r="2.1"/><circle cx="309.1" cy="1336.1" r="2.1"/><circle cx="318.0" cy="1332.6" r="2.1"/><circle cx="303.6" cy="1334.2" r="2.1"/><circle cx="300.8" cy="1334.7" r="2.1"/><circle cx="299.9" cy="1336.7" r="2.1"/><circle cx="302.4" cy="1337.3" r="2.1"/><circle cx="310.9" cy="1336.9" r="2.1"/><circle cx="312.7" cy="1335.8" r="2.1"/><circle cx="317.2" cy="1334.4" r="2.1"/><circle cx="321.4" cy="1336.5" r="2.1"/><circle cx="310.9" cy="1336.8" r="2.1"/><circle cx="293.1" cy="1336.3" r="2.1"/><circle cx="323.6" cy="1337.4" r="2.1"/><circle cx="317.8" cy="1323.0" r="2.1"/><circle cx="294.1" cy="1334.3" r="2.1"/><circle cx="312.0" cy="1336.7" r="2.1"/><circle cx="309.2" cy="1334.4" r="2.1"/><circle cx="306.4" cy="1336.8" r="2.1"/><circle cx="314.4" cy="1336.8" r="2.1"/><circle cx="308.0" cy="1337.4" r="2.1"/><circle cx="321.5" cy="1334.4" r="2.1"/><circle cx="316.7" cy="1336.8" r="2.1"/><circle cx="303.4" cy="1333.7" r="2.1"/><circle cx="297.8" cy="1335.1" r="2.1"/><circle cx="311.3" cy="1327.0" r="2.1"/><circle cx="311.1" cy="1333.5" r="2.1"/><circle cx="301.5" cy="1335.2" r="2.1"/><circle cx="303.8" cy="1336.4" r="2.1"/><circle cx="324.9" cy="1336.6" r="2.1"/><circle cx="320.9" cy="1336.9" r="2.1"/><circle cx="308.8" cy="1337.4" r="2.1"/><circle cx="301.9" cy="1333.7" r="2.1"/><circle cx="312.8" cy="1336.6" r="2.1"/><circle cx="324.4" cy="1337.7" r="2.1"/><circle cx="325.2" cy="1337.7" r="2.1"/><circle cx="311.1" cy="1337.7" r="2.1"/><circle cx="321.0" cy="1337.7" r="2.1"/><circle cx="311.0" cy="1337.7" r="2.1"/><circle cx="316.3" cy="1337.7" r="2.1"/><circle cx="302.0" cy="1337.7" r="2.1"/><circle cx="301.7" cy="1337.7" r="2.1"/><circle cx="317.1" cy="1337.7" r="2.1"/><circle cx="300.3" cy="1337.7" r="2.1"/><circle cx="306.3" cy="1337.7" r="2.1"/><circle cx="319.9" cy="1337.7" r="2.1"/><circle cx="287.8" cy="1337.7" r="2.1"/><circle cx="315.6" cy="1337.7" r="2.1"/><circle cx="319.3" cy="1337.7" r="2.1"/><circle cx="321.5" cy="1337.7" r="2.1"/><circle cx="299.8" cy="1337.7" r="2.1"/><circle cx="290.4" cy="1337.7" r="2.1"/><circle cx="294.0" cy="1337.7" r="2.1"/><circle cx="309.2" cy="1337.7" r="2.1"/><circle cx="314.7" cy="1337.7" r="2.1"/><circle cx="324.8" cy="1337.7" r="2.1"/><circle cx="299.5" cy="1337.7" r="2.1"/><circle cx="302.8" cy="1337.7" r="2.1"/><circle cx="311.3" cy="1337.7" r="2.1"/><circle cx="299.5" cy="1337.7" r="2.1"/><circle cx="307.5" cy="1337.7" r="2.1"/><circle cx="287.8" cy="1337.7" r="2.1"/><circle cx="296.0" cy="1337.7" r="2.1"/><circle cx="315.4" cy="1337.7" r="2.1"/><circle cx="289.2" cy="1337.7" r="2.1"/><circle cx="323.5" cy="1337.7" r="2.1"/><circle cx="304.0" cy="1337.7" r="2.1"/><circle cx="309.1" cy="1337.7" r="2.1"/><circle cx="315.8" cy="1337.7" r="2.1"/><circle cx="323.0" cy="1337.7" r="2.1"/><circle cx="294.1" cy="1337.7" r="2.1"/><circle cx="324.8" cy="1337.7" r="2.1"/><circle cx="303.3" cy="1337.7" r="2.1"/><circle cx="287.7" cy="1337.7" r="2.1"/><circle cx="319.6" cy="1337.7" r="2.1"/><circle cx="317.3" cy="1337.7" r="2.1"/><circle cx="301.0" cy="1337.7" r="2.1"/><circle cx="305.0" cy="1337.7" r="2.1"/><circle cx="299.6" cy="1337.7" r="2.1"/><circle cx="292.8" cy="1337.7" r="2.1"/><circle cx="318.3" cy="1337.7" r="2.1"/><circle cx="312.9" cy="1337.7" r="2.1"/><circle cx="313.3" cy="1337.7" r="2.1"/><circle cx="323.4" cy="1337.7" r="2.1"/><circle cx="289.7" cy="1337.7" r="2.1"/><circle cx="294.0" cy="1337.7" r="2.1"/><circle cx="296.7" cy="1337.7" r="2.1"/><circle cx="325.0" cy="1337.7" r="2.1"/><circle cx="291.5" cy="1337.7" r="2.1"/><circle cx="307.8" cy="1317.8" r="2.1"/><circle cx="300.2" cy="1324.5" r="2.1"/><circle cx="308.5" cy="1328.4" r="2.1"/><circle cx="311.3" cy="1330.4" r="2.1"/><circle cx="302.0" cy="1319.0" r="2.1"/><circle cx="318.0" cy="1315.1" r="2.1"/><circle cx="306.7" cy="1322.4" r="2.1"/><circle cx="302.7" cy="1324.8" r="2.1"/><circle cx="310.0" cy="1327.9" r="2.1"/><circle cx="299.7" cy="1320.3" r="2.1"/><circle cx="312.8" cy="1314.1" r="2.1"/><circle cx="306.9" cy="1330.6" r="2.1"/><circle cx="307.7" cy="1317.8" r="2.1"/><circle cx="313.1" cy="1312.2" r="2.1"/><circle cx="307.8" cy="1314.1" r="2.1"/><circle cx="301.8" cy="1326.8" r="2.1"/><circle cx="309.0" cy="1320.6" r="2.1"/><circle cx="323.2" cy="1319.1" r="2.1"/><circle cx="298.1" cy="1324.2" r="2.1"/><circle cx="291.2" cy="1315.2" r="2.1"/><circle cx="303.5" cy="1324.8" r="2.1"/><circle cx="294.9" cy="1318.3" r="2.1"/><circle cx="302.6" cy="1328.6" r="2.1"/><circle cx="305.4" cy="1320.8" r="2.1"/><circle cx="321.6" cy="1329.5" r="2.1"/><circle cx="315.2" cy="1330.5" r="2.1"/><circle cx="320.6" cy="1326.5" r="2.1"/><circle cx="318.0" cy="1329.5" r="2.1"/><circle cx="390.3" cy="1337.8" r="2.1"/><circle cx="390.9" cy="1337.8" r="2.1"/><circle cx="420.2" cy="1337.8" r="2.1"/><circle cx="417.5" cy="1337.8" r="2.1"/><circle cx="420.4" cy="1337.8" r="2.1"/><circle cx="422.2" cy="1337.8" r="2.1"/><circle cx="392.0" cy="1337.8" r="2.1"/><circle cx="415.6" cy="1337.8" r="2.1"/><circle cx="405.4" cy="1337.8" r="2.1"/><circle cx="425.8" cy="1337.8" r="2.1"/><circle cx="425.9" cy="1337.8" r="2.1"/><circle cx="429.1" cy="1337.8" r="2.1"/><circle cx="392.0" cy="1337.8" r="2.1"/><circle cx="428.1" cy="1337.8" r="2.1"/><circle cx="430.1" cy="1337.8" r="2.1"/><circle cx="431.5" cy="1337.8" r="2.1"/><circle cx="393.8" cy="1337.8" r="2.1"/><circle cx="398.3" cy="1337.8" r="2.1"/><circle cx="394.0" cy="1337.8" r="2.1"/><circle cx="390.5" cy="1337.8" r="2.1"/><circle cx="427.1" cy="1337.8" r="2.1"/><circle cx="425.5" cy="1337.8" r="2.1"/><circle cx="417.5" cy="1337.8" r="2.1"/><circle cx="426.1" cy="1337.8" r="2.1"/><circle cx="417.4" cy="1337.8" r="2.1"/><circle cx="401.9" cy="1337.8" r="2.1"/><circle cx="393.5" cy="1337.8" r="2.1"/><circle cx="393.4" cy="1337.8" r="2.1"/><circle cx="423.1" cy="1337.8" r="2.1"/><circle cx="398.2" cy="1337.8" r="2.1"/><circle cx="403.4" cy="1337.8" r="2.1"/><circle cx="408.1" cy="1337.8" r="2.1"/><circle cx="389.9" cy="1337.8" r="2.1"/><circle cx="400.6" cy="1337.8" r="2.1"/><circle cx="401.7" cy="1337.8" r="2.1"/><circle cx="421.2" cy="1337.8" r="2.1"/><circle cx="405.6" cy="1337.8" r="2.1"/><circle cx="403.4" cy="1337.8" r="2.1"/><circle cx="432.4" cy="1337.8" r="2.1"/><circle cx="411.7" cy="1337.8" r="2.1"/><circle cx="427.3" cy="1337.8" r="2.1"/><circle cx="416.8" cy="1337.8" r="2.1"/><circle cx="390.4" cy="1337.8" r="2.1"/><circle cx="407.6" cy="1337.8" r="2.1"/><circle cx="408.6" cy="1337.8" r="2.1"/><circle cx="423.8" cy="1337.8" r="2.1"/><circle cx="404.6" cy="1337.8" r="2.1"/><circle cx="420.7" cy="1337.8" r="2.1"/><circle cx="413.2" cy="1337.8" r="2.1"/><circle cx="398.7" cy="1337.8" r="2.1"/><circle cx="427.8" cy="1337.8" r="2.1"/><circle cx="393.1" cy="1337.8" r="2.1"/><circle cx="425.9" cy="1337.8" r="2.1"/><circle cx="396.7" cy="1337.8" r="2.1"/><circle cx="389.1" cy="1337.8" r="2.1"/><circle cx="398.1" cy="1337.8" r="2.1"/><circle cx="423.3" cy="1337.8" r="2.1"/><circle cx="433.0" cy="1337.8" r="2.1"/><circle cx="389.2" cy="1337.8" r="2.1"/><circle cx="411.1" cy="1337.8" r="2.1"/><circle cx="411.1" cy="1337.8" r="2.1"/><circle cx="424.9" cy="1337.8" r="2.1"/><circle cx="397.3" cy="1337.8" r="2.1"/><circle cx="411.3" cy="1337.8" r="2.1"/><circle cx="404.6" cy="1337.8" r="2.1"/><circle cx="426.4" cy="1337.8" r="2.1"/><circle cx="400.7" cy="1337.8" r="2.1"/><circle cx="431.5" cy="1337.8" r="2.1"/><circle cx="401.8" cy="1337.8" r="2.1"/><circle cx="398.7" cy="1337.8" r="2.1"/><circle cx="420.6" cy="1336.4" r="2.1"/><circle cx="418.2" cy="1337.8" r="2.1"/><circle cx="397.1" cy="1336.7" r="2.1"/><circle cx="423.9" cy="1333.3" r="2.1"/><circle cx="417.9" cy="1335.9" r="2.1"/><circle cx="409.0" cy="1335.4" r="2.1"/></g>
<g fill="#000000"><circle cx="417.3" cy="1237.0" r="2.1"/><circle cx="403.4" cy="1243.3" r="2.1"/><circle cx="415.8" cy="1269.3" r="2.1"/><circle cx="414.4" cy="1302.3" r="2.1"/><circle cx="418.6" cy="1302.8" r="2.1"/><circle cx="423.9" cy="1304.9" r="2.1"/><circle cx="427.3" cy="1305.3" r="2.1"/><circle cx="429.8" cy="1303.2" r="2.1"/><circle cx="427.3" cy="1310.6" r="2.1"/><circle cx="418.2" cy="1313.3" r="2.1"/><circle cx="416.5" cy="1314.8" r="2.1"/><circle cx="426.6" cy="1318.0" r="2.1"/><circle cx="431.3" cy="1318.4" r="2.1"/><circle cx="424.5" cy="1320.1" r="2.1"/><circle cx="401.3" cy="1323.5" r="2.1"/><circle cx="427.7" cy="1323.9" r="2.1"/><circle cx="437.2" cy="1323.3" r="2.1"/><circle cx="447.4" cy="1321.8" r="2.1"/><circle cx="460.9" cy="1322.0" r="2.1"/><circle cx="407.0" cy="1326.9" r="2.1"/><circle cx="424.5" cy="1326.0" r="2.1"/><circle cx="431.3" cy="1326.5" r="2.1"/><circle cx="399.8" cy="1329.2" r="2.1"/><circle cx="398.1" cy="1330.7" r="2.1"/><circle cx="416.5" cy="1330.7" r="2.1"/><circle cx="422.4" cy="1329.6" r="2.1"/><circle cx="441.4" cy="1327.9" r="2.1"/><circle cx="406.5" cy="1333.4" r="2.1"/><circle cx="416.1" cy="1332.8" r="2.1"/><circle cx="424.5" cy="1333.4" r="2.1"/><circle cx="438.7" cy="1333.0" r="2.1"/><circle cx="605.4" cy="1329.8" r="2.1"/><circle cx="444.2" cy="1337.9" r="2.1"/><circle cx="460.9" cy="1337.9" r="2.1"/><circle cx="289.3" cy="1213.6" r="2.1"/><circle cx="284.6" cy="1243.4" r="2.1"/><circle cx="310.9" cy="1259.9" r="2.1"/><circle cx="291.1" cy="1267.3" r="2.1"/><circle cx="315.8" cy="1267.3" r="2.1"/><circle cx="283.2" cy="1274.3" r="2.1"/><circle cx="287.9" cy="1277.1" r="2.1"/><circle cx="321.6" cy="1277.8" r="2.1"/><circle cx="303.0" cy="1283.6" r="2.1"/><circle cx="304.6" cy="1288.8" r="2.1"/><circle cx="317.6" cy="1296.7" r="2.1"/><circle cx="283.2" cy="1298.1" r="2.1"/><circle cx="290.2" cy="1297.6" r="2.1"/><circle cx="304.6" cy="1299.2" r="2.1"/><circle cx="287.9" cy="1301.6" r="2.1"/><circle cx="300.0" cy="1304.3" r="2.1"/><circle cx="312.8" cy="1304.3" r="2.1"/><circle cx="289.5" cy="1307.4" r="2.1"/><circle cx="305.8" cy="1308.5" r="2.1"/><circle cx="291.8" cy="1309.7" r="2.1"/><circle cx="300.7" cy="1312.0" r="2.1"/><circle cx="305.8" cy="1313.7" r="2.1"/><circle cx="312.3" cy="1315.5" r="2.1"/><circle cx="296.0" cy="1316.2" r="2.1"/><circle cx="286.7" cy="1318.5" r="2.1"/><circle cx="295.3" cy="1320.9" r="2.1"/><circle cx="286.0" cy="1322.5" r="2.1"/><circle cx="317.4" cy="1320.2" r="2.1"/><circle cx="325.1" cy="1321.3" r="2.1"/><circle cx="305.8" cy="1322.5" r="2.1"/><circle cx="310.4" cy="1324.8" r="2.1"/><circle cx="266.7" cy="1326.5" r="2.1"/><circle cx="267.8" cy="1327.6" r="2.1"/><circle cx="300.0" cy="1326.0" r="2.1"/><circle cx="319.7" cy="1326.0" r="2.1"/><circle cx="292.5" cy="1328.3" r="2.1"/><circle cx="304.6" cy="1328.3" r="2.1"/><circle cx="312.8" cy="1329.0" r="2.1"/><circle cx="320.9" cy="1329.5" r="2.1"/><circle cx="297.6" cy="1330.6" r="2.1"/><circle cx="308.1" cy="1330.6" r="2.1"/><circle cx="286.7" cy="1333.0" r="2.1"/><circle cx="303.4" cy="1333.0" r="2.1"/><circle cx="315.1" cy="1333.0" r="2.1"/><circle cx="322.8" cy="1333.0" r="2.1"/><circle cx="268.1" cy="1334.1" r="2.1"/><circle cx="293.0" cy="1334.8" r="2.1"/><circle cx="300.0" cy="1335.3" r="2.1"/><circle cx="309.3" cy="1335.3" r="2.1"/><circle cx="318.6" cy="1335.3" r="2.1"/><circle cx="306.9" cy="1336.5" r="2.1"/><circle cx="106.8" cy="1337.6" r="2.1"/><circle cx="219.7" cy="1337.6" r="2.1"/><circle cx="274.8" cy="1337.6" r="2.1"/><circle cx="278.3" cy="1337.6" r="2.1"/></g>
<g fill="#ff0000"><circle cx="618.0" cy="799.8" r="2.0"/><circle cx="618.7" cy="828.5" r="2.0"/><circle cx="563.7" cy="865.0" r="2.0"/><circle cx="570.0" cy="891.8" r="2.0"/><circle cx="589.4" cy="917.7" r="2.0"/><circle cx="572.0" cy="923.9" r="2.0"/><circle cx="597.0" cy="929.3" r="2.0"/><circle cx="549.1" cy="971.2" r="2.0"/><circle cx="504.1" cy="1013.0" r="2.0"/><circle cx="488.9" cy="1017.6" r="2.0"/><circle cx="499.0" cy="1066.5" r="2.0"/><circle cx="485.3" cy="1081.9" r="2.0"/><circle cx="518.8" cy="1094.6" r="2.0"/><circle cx="510.4" cy="1102.0" r="2.0"/><circle cx="517.1" cy="1104.8" r="2.0"/><circle cx="501.1" cy="1112.1" r="2.0"/><circle cx="542.6" cy="1148.4" r="2.0"/><circle cx="489.0" cy="1172.0" r="2.0"/><circle cx="478.9" cy="1211.2" r="2.0"/><circle cx="459.9" cy="1218.6" r="2.0"/><circle cx="457.3" cy="1219.6" r="2.0"/><circle cx="474.2" cy="1217.5" r="2.0"/><circle cx="474.4" cy="1219.2" r="2.0"/><circle cx="463.0" cy="1223.2" r="2.0"/><circle cx="464.9" cy="1235.7" r="2.0"/><circle cx="437.0" cy="1237.8" r="2.0"/><circle cx="451.8" cy="1240.3" r="2.0"/><circle cx="480.8" cy="1249.9" r="2.0"/><circle cx="472.5" cy="1255.2" r="2.0"/><circle cx="439.1" cy="1256.6" r="2.0"/><circle cx="500.0" cy="1261.3" r="2.0"/><circle cx="459.0" cy="1267.6" r="2.0"/><circle cx="441.7" cy="1273.8" r="2.0"/><circle cx="451.6" cy="1280.3" r="2.0"/><circle cx="488.0" cy="1288.2" r="2.0"/><circle cx="435.7" cy="1297.7" r="2.0"/><circle cx="454.4" cy="1297.0" r="2.0"/><circle cx="433.2" cy="1301.1" r="2.0"/><circle cx="438.1" cy="1304.4" r="2.0"/><circle cx="442.9" cy="1306.1" r="2.0"/><circle cx="474.7" cy="1306.8" r="2.0"/><circle cx="447.2" cy="1308.9" r="2.0"/><circle cx="441.0" cy="1309.5" r="2.0"/><circle cx="445.7" cy="1311.2" r="2.0"/><circle cx="436.2" cy="1311.0" r="2.0"/><circle cx="436.6" cy="1316.9" r="2.0"/><circle cx="439.5" cy="1316.9" r="2.0"/><circle cx="442.1" cy="1316.9" r="2.0"/><circle cx="434.0" cy="1320.7" r="2.0"/></g>
<g fill="#0000ff"><circle cx="252.0" cy="1077.2" r="2.0"/><circle cx="228.5" cy="1123.1" r="2.0"/><circle cx="263.4" cy="1161.2" r="2.0"/><circle cx="262.3" cy="1169.6" r="2.0"/><circle cx="258.5" cy="1193.8" r="2.0"/><circle cx="69.6" cy="1164.9" r="2.0"/><circle cx="79.3" cy="1195.7" r="2.0"/><circle cx="108.4" cy="1210.1" r="2.0"/><circle cx="253.6" cy="1202.2" r="2.0"/><circle cx="236.9" cy="1218.9" r="2.0"/><circle cx="260.2" cy="1217.1" r="2.0"/><circle cx="260.6" cy="1228.5" r="2.0"/><circle cx="280.9" cy="1228.7" r="2.0"/><circle cx="234.8" cy="1234.8" r="2.0"/><circle cx="271.3" cy="1255.5" r="2.0"/><circle cx="194.3" cy="1256.2" r="2.0"/><circle cx="246.7" cy="1263.4" r="2.0"/><circle cx="278.5" cy="1273.2" r="2.0"/><circle cx="272.7" cy="1277.1" r="2.0"/><circle cx="280.9" cy="1277.1" r="2.0"/><circle cx="227.3" cy="1280.6" r="2.0"/><circle cx="249.7" cy="1282.9" r="2.0"/><circle cx="253.9" cy="1286.0" r="2.0"/><circle cx="257.6" cy="1288.3" r="2.0"/><circle cx="266.0" cy="1288.1" r="2.0"/><circle cx="280.9" cy="1289.2" r="2.0"/><circle cx="267.8" cy="1296.9" r="2.0"/><circle cx="265.0" cy="1298.5" r="2.0"/><circle cx="277.1" cy="1304.3" r="2.0"/><circle cx="264.6" cy="1308.5" r="2.0"/><circle cx="273.2" cy="1318.1" r="2.0"/><circle cx="268.0" cy="1023.5" r="2.0"/></g>
<text x="594.4" y="811.6" font-size="17.2" fill="#ff0000">RPS26</text>
<text x="564.8" y="830.5" font-size="17.2" fill="#ff0000">HSP90AA1</text>
<text x="546.6" y="860.5" font-size="17.2" fill="#ff0000" textLength="89.1" lengthAdjust="spacingAndGlyphs">HSP90AB1</text>
<text x="559.0" y="886.7" font-size="17.2" fill="#ff0000" textLength="66.6" lengthAdjust="spacingAndGlyphs">DNAJA1</text>
<text x="580.8" y="913.1" font-size="17.2" fill="#ff0000" textLength="58.3" lengthAdjust="spacingAndGlyphs">HSPH1</text>
<text x="546.6" y="935.2" font-size="17.2" fill="#ff0000" textLength="58.1" lengthAdjust="spacingAndGlyphs">HSPD1</text>
<text x="585.9" y="940.7" font-size="17.2" fill="#ff0000">HSPA1A</text>
<text x="540.7" y="966.7" font-size="17.2" fill="#ff0000" textLength="57.0" lengthAdjust="spacingAndGlyphs">HSPE1</text>
<text x="507.1" y="1089.8" font-size="17.2" fill="#ff0000" textLength="70.0" lengthAdjust="spacingAndGlyphs">MRPL18</text>
<text x="527.7" y="1143.6" font-size="17.2" fill="#ff0000" textLength="80.9" lengthAdjust="spacingAndGlyphs">ZFAND2A</text>
<text x="218.5" y="1118.4" font-size="17.2" fill="#0000ff" textLength="63.8" lengthAdjust="spacingAndGlyphs">S100A4</text>
<text x="47.4" y="1176.6" font-size="17.2" fill="#0000ff" textLength="47.1" lengthAdjust="spacingAndGlyphs">MT1X</text>
<text x="57.2" y="1206.8" font-size="17.2" fill="#0000ff" textLength="49.9" lengthAdjust="spacingAndGlyphs">MT1G</text>
<text x="102.8" y="1221.3" font-size="17.2" fill="#0000ff" textLength="47.6" lengthAdjust="spacingAndGlyphs">MT1E</text>
<text x="226.6" y="1214.3" font-size="17.2" fill="#0000ff" textLength="51.8" lengthAdjust="spacingAndGlyphs">GZMB</text>
<text x="193.3" y="1244.5" font-size="17.2" fill="#0000ff" textLength="67.6" lengthAdjust="spacingAndGlyphs">LGALS3</text>
<text x="225.9" y="1258.5" font-size="17.2" fill="#0000ff" textLength="44.1" lengthAdjust="spacingAndGlyphs">CCL4</text>
<text x="173.6" y="1267.4" font-size="17.2" fill="#0000ff" textLength="45.0" lengthAdjust="spacingAndGlyphs">LAG3</text>
<text x="195.7" y="1281.3" font-size="17.2" fill="#0000ff" textLength="48.9" lengthAdjust="spacingAndGlyphs">PTMS</text>
<text x="242.9" y="1277.8" font-size="17.2" fill="#0000ff" textLength="45.3" lengthAdjust="spacingAndGlyphs">CD70</text>
</g>
<rect x="41.8" y="774.3" width="603.8000000000001" height="589.6000000000001" fill="none" stroke="#333" stroke-width="1.5"/>
<g stroke="#333" stroke-width="2.2" fill="none"><path d="M101.0 1364.6000000000001v3"/><path d="M229.1 1364.6000000000001v3"/><path d="M357.2 1364.6000000000001v3"/><path d="M485.3 1364.6000000000001v3"/><path d="M613.4 1364.6000000000001v3"/><path d="M41.099999999999994 1338.0h-3"/><path d="M41.099999999999994 1209.4h-3"/><path d="M41.099999999999994 1080.8h-3"/><path d="M41.099999999999994 952.2h-3"/><path d="M41.099999999999994 823.6h-3"/></g>
<text x="101.0" y="1377.3" font-size="10.8" fill="#4d4d4d" text-anchor="middle">−2</text>
<text x="229.1" y="1377.3" font-size="10.8" fill="#4d4d4d" text-anchor="middle">−1</text>
<text x="357.2" y="1377.3" font-size="10.8" fill="#4d4d4d" text-anchor="middle">0</text>
<text x="485.3" y="1377.3" font-size="10.8" fill="#4d4d4d" text-anchor="middle">1</text>
<text x="613.4" y="1377.3" font-size="10.8" fill="#4d4d4d" text-anchor="middle">2</text>
<text x="36.0" y="1341.9" font-size="10.8" fill="#4d4d4d" text-anchor="end">0</text>
<text x="36.0" y="1213.3" font-size="10.8" fill="#4d4d4d" text-anchor="end">10</text>
<text x="36.0" y="1084.7" font-size="10.8" fill="#4d4d4d" text-anchor="end">20</text>
<text x="36.0" y="956.1" font-size="10.8" fill="#4d4d4d" text-anchor="end">30</text>
<text x="36.0" y="827.5" font-size="10.8" fill="#4d4d4d" text-anchor="end">40</text>
<text x="192.5" y="1398.5" font-size="23.7" fill="#000" textLength="306.0" lengthAdjust="spacingAndGlyphs">log2FC Treg(ADT+ VS ADT-)</text>
<text x="17.0" y="1114.3" font-size="23.5" fill="#000" textLength="141.2" lengthAdjust="spacingAndGlyphs" transform="rotate(-90 17.0 1114.3)">−log10(q_val)</text>
<path d="M1390.0 50.2H1397.3V650.0H784.5V642.0H1390.0Z" fill="#dcdcdc"/><path d="M1390.0 49.7H1396.4V649.1H784.0V642.0H1390.0Z" fill="#b4b4b4"/><path d="M1390.0 48.2H1395.0V647.0H782.5V642.0H1390.0Z" fill="#444"/><path d="M1390.0 46.7H1392.6V644.6H781.0V642.0H1390.0Z" fill="#111"/>
<path d="M781.0 643.0V46.7H1391.0" fill="none" stroke="#555" stroke-width="1.6"/>
<path d="M839.5 103.2V490.3" stroke="#000" stroke-width="3" fill="none"/>
<path d="M872.2 592.6H1288.2" stroke="#000" stroke-width="3.4" fill="none"/>
<text x="857.0" y="105.5" font-size="5.6" fill="#4d4d4d">2</text>
<rect x="862.7" y="102.6" width="2" height="2.1" fill="#333"/>
<text x="836.0" y="234.1" font-size="5.6" fill="#4d4d4d" text-anchor="end">1</text>
<rect x="836.4" y="231.1" width="2" height="2" fill="#333"/>
<text x="836.0" y="362.6" font-size="5.6" fill="#4d4d4d" text-anchor="end">0</text>
<rect x="836.4" y="359.6" width="2" height="2" fill="#333"/>
<text x="836.0" y="491.1" font-size="5.6" fill="#4d4d4d" text-anchor="end">−1</text>
<rect x="836.4" y="488.1" width="2" height="2" fill="#333"/>
<text x="872.5" y="601.6" font-size="5.6" fill="#4d4d4d" text-anchor="middle">−2</text>
<text x="976.2" y="601.6" font-size="5.6" fill="#4d4d4d" text-anchor="middle">−1</text>
<text x="1080.0" y="601.6" font-size="5.6" fill="#4d4d4d" text-anchor="middle">0</text>
<text x="1183.8" y="601.6" font-size="5.6" fill="#4d4d4d" text-anchor="middle">1</text>
<text x="1287.5" y="601.6" font-size="5.6" fill="#4d4d4d" text-anchor="middle">2</text>
<clipPath id="clipB"><rect x="850" y="60" width="517" height="525"/></clipPath>
<g clip-path="url(#clipB)">
<g fill="#000000"><circle cx="1027.3" cy="393.6" r="2.35"/><circle cx="1027.4" cy="393.1" r="2.35"/><circle cx="1050.0" cy="396.0" r="2.35"/><circle cx="1026.9" cy="400.8" r="2.35"/><circle cx="1045.2" cy="411.3" r="2.35"/><circle cx="1049.3" cy="399.9" r="2.35"/><circle cx="1040.4" cy="407.4" r="2.35"/><circle cx="1032.6" cy="404.4" r="2.35"/><circle cx="1046.1" cy="397.1" r="2.35"/><circle cx="1051.2" cy="410.0" r="2.35"/><circle cx="1035.9" cy="407.1" r="2.35"/><circle cx="1050.9" cy="399.4" r="2.35"/><circle cx="1031.8" cy="402.7" r="2.35"/><circle cx="1051.9" cy="399.9" r="2.35"/><circle cx="1027.5" cy="395.6" r="2.35"/><circle cx="1050.4" cy="396.6" r="2.35"/><circle cx="1034.4" cy="410.0" r="2.35"/><circle cx="1051.3" cy="394.4" r="2.35"/><circle cx="1049.0" cy="397.1" r="2.35"/><circle cx="1040.7" cy="394.4" r="2.35"/><circle cx="1046.7" cy="394.8" r="2.35"/><circle cx="1024.0" cy="406.7" r="2.35"/><circle cx="1052.4" cy="413.8" r="2.35"/><circle cx="1052.4" cy="398.2" r="2.35"/><circle cx="1023.6" cy="408.6" r="2.35"/><circle cx="1033.3" cy="399.3" r="2.35"/><circle cx="1050.3" cy="404.2" r="2.35"/><circle cx="1052.3" cy="395.1" r="2.35"/><circle cx="1044.9" cy="393.1" r="2.35"/><circle cx="1044.6" cy="408.5" r="2.35"/><circle cx="1034.7" cy="400.8" r="2.35"/><circle cx="1036.9" cy="399.9" r="2.35"/><circle cx="1051.6" cy="403.3" r="2.35"/><circle cx="1044.4" cy="407.0" r="2.35"/><circle cx="1026.7" cy="399.2" r="2.35"/><circle cx="1038.9" cy="407.3" r="2.35"/><circle cx="1043.9" cy="395.4" r="2.35"/><circle cx="1033.7" cy="411.2" r="2.35"/><circle cx="1031.8" cy="405.9" r="2.35"/><circle cx="1028.8" cy="405.3" r="2.35"/><circle cx="1036.6" cy="399.7" r="2.35"/><circle cx="1047.2" cy="404.0" r="2.35"/><circle cx="1052.5" cy="399.0" r="2.35"/><circle cx="1031.5" cy="406.2" r="2.35"/><circle cx="1037.0" cy="395.8" r="2.35"/><circle cx="1043.9" cy="399.8" r="2.35"/><circle cx="1037.3" cy="398.8" r="2.35"/><circle cx="1035.4" cy="412.7" r="2.35"/><circle cx="1050.6" cy="404.6" r="2.35"/><circle cx="1031.6" cy="398.3" r="2.35"/><circle cx="1041.7" cy="414.2" r="2.35"/><circle cx="1053.6" cy="401.8" r="2.35"/><circle cx="1051.1" cy="408.2" r="2.35"/><circle cx="1025.4" cy="401.2" r="2.35"/><circle cx="1052.4" cy="402.6" r="2.35"/><circle cx="1040.1" cy="406.4" r="2.35"/><circle cx="1041.0" cy="404.2" r="2.35"/><circle cx="1029.7" cy="401.3" r="2.35"/><circle cx="1044.3" cy="413.3" r="2.35"/><circle cx="1049.9" cy="405.5" r="2.35"/><circle cx="1044.8" cy="407.7" r="2.35"/><circle cx="1052.0" cy="414.5" r="2.35"/><circle cx="1045.9" cy="393.3" r="2.35"/><circle cx="1048.2" cy="398.6" r="2.35"/><circle cx="1053.9" cy="399.0" r="2.35"/><circle cx="1043.9" cy="405.8" r="2.35"/><circle cx="1046.0" cy="396.0" r="2.35"/><circle cx="1049.6" cy="407.0" r="2.35"/><circle cx="1025.4" cy="401.4" r="2.35"/><circle cx="1049.7" cy="408.8" r="2.35"/><circle cx="1044.8" cy="395.1" r="2.35"/><circle cx="1051.8" cy="408.1" r="2.35"/><circle cx="1030.4" cy="404.1" r="2.35"/><circle cx="1042.4" cy="402.3" r="2.35"/><circle cx="1049.5" cy="413.8" r="2.35"/><circle cx="1041.6" cy="394.0" r="2.35"/><circle cx="1025.3" cy="394.2" r="2.35"/><circle cx="1037.6" cy="393.4" r="2.35"/><circle cx="1034.8" cy="393.2" r="2.35"/><circle cx="1024.8" cy="393.5" r="2.35"/><circle cx="1024.2" cy="393.4" r="2.35"/><circle cx="1040.8" cy="393.4" r="2.35"/><circle cx="1039.1" cy="393.3" r="2.35"/><circle cx="1053.9" cy="394.1" r="2.35"/><circle cx="1044.2" cy="393.4" r="2.35"/><circle cx="1043.4" cy="393.7" r="2.35"/><circle cx="1039.0" cy="394.0" r="2.35"/><circle cx="1030.9" cy="393.5" r="2.35"/><circle cx="1021.5" cy="394.3" r="2.35"/><circle cx="1052.0" cy="394.2" r="2.35"/><circle cx="1022.3" cy="394.2" r="2.35"/><circle cx="1049.1" cy="394.2" r="2.35"/><circle cx="1031.8" cy="393.0" r="2.35"/><circle cx="1053.6" cy="394.4" r="2.35"/><circle cx="1031.0" cy="393.4" r="2.35"/><circle cx="1050.4" cy="393.2" r="2.35"/><circle cx="1045.8" cy="394.2" r="2.35"/><circle cx="1053.5" cy="396.1" r="2.35"/><circle cx="1052.6" cy="408.8" r="2.35"/><circle cx="1053.7" cy="410.8" r="2.35"/><circle cx="1053.1" cy="408.6" r="2.35"/><circle cx="1053.0" cy="410.9" r="2.35"/><circle cx="1052.8" cy="409.8" r="2.35"/><circle cx="1053.7" cy="406.9" r="2.35"/><circle cx="1053.2" cy="407.8" r="2.35"/><circle cx="1053.3" cy="410.7" r="2.35"/><circle cx="1053.2" cy="398.3" r="2.35"/><circle cx="1109.0" cy="325.2" r="2.35"/><circle cx="1114.0" cy="327.1" r="2.35"/><circle cx="1113.4" cy="325.1" r="2.35"/><circle cx="1114.0" cy="313.4" r="2.35"/><circle cx="1115.1" cy="298.3" r="2.35"/><circle cx="1106.2" cy="299.3" r="2.35"/><circle cx="1113.5" cy="311.0" r="2.35"/><circle cx="1118.1" cy="299.3" r="2.35"/><circle cx="1111.5" cy="316.4" r="2.35"/><circle cx="1126.1" cy="326.8" r="2.35"/><circle cx="1117.4" cy="308.0" r="2.35"/><circle cx="1106.3" cy="309.1" r="2.35"/><circle cx="1118.5" cy="295.2" r="2.35"/><circle cx="1110.7" cy="292.9" r="2.35"/><circle cx="1114.4" cy="314.0" r="2.35"/><circle cx="1124.3" cy="327.6" r="2.35"/><circle cx="1119.4" cy="308.4" r="2.35"/><circle cx="1110.8" cy="298.3" r="2.35"/><circle cx="1111.3" cy="314.3" r="2.35"/><circle cx="1114.7" cy="302.3" r="2.35"/><circle cx="1108.6" cy="315.8" r="2.35"/><circle cx="1112.5" cy="311.3" r="2.35"/><circle cx="1122.3" cy="320.7" r="2.35"/><circle cx="1122.3" cy="316.9" r="2.35"/><circle cx="1114.2" cy="321.4" r="2.35"/><circle cx="1114.3" cy="293.2" r="2.35"/><circle cx="1117.8" cy="301.4" r="2.35"/><circle cx="1110.7" cy="319.9" r="2.35"/><circle cx="1110.1" cy="310.0" r="2.35"/><circle cx="1117.3" cy="301.8" r="2.35"/><circle cx="1106.4" cy="304.4" r="2.35"/><circle cx="1123.9" cy="311.6" r="2.35"/><circle cx="1106.5" cy="320.5" r="2.35"/><circle cx="1106.2" cy="323.8" r="2.35"/><circle cx="1124.9" cy="309.1" r="2.35"/><circle cx="1117.9" cy="301.5" r="2.35"/><circle cx="1124.6" cy="309.0" r="2.35"/><circle cx="1116.9" cy="308.4" r="2.35"/><circle cx="1118.9" cy="309.6" r="2.35"/><circle cx="1118.5" cy="323.2" r="2.35"/><circle cx="1118.1" cy="315.0" r="2.35"/><circle cx="1120.6" cy="326.2" r="2.35"/><circle cx="1108.1" cy="327.5" r="2.35"/><circle cx="1120.9" cy="296.0" r="2.35"/><circle cx="1117.8" cy="318.2" r="2.35"/><circle cx="1122.2" cy="301.7" r="2.35"/><circle cx="1115.6" cy="321.8" r="2.35"/><circle cx="1110.1" cy="316.3" r="2.35"/><circle cx="1110.4" cy="316.0" r="2.35"/><circle cx="1117.5" cy="295.1" r="2.35"/><circle cx="1106.6" cy="310.8" r="2.35"/><circle cx="1106.4" cy="325.7" r="2.35"/><circle cx="1121.8" cy="310.5" r="2.35"/><circle cx="1124.8" cy="315.4" r="2.35"/><circle cx="1106.3" cy="317.5" r="2.35"/></g>
<g fill="#000000"><circle cx="1173.2" cy="233.6" r="2.35"/><circle cx="1139.1" cy="239.3" r="2.35"/><circle cx="1185.7" cy="244.0" r="2.35"/><circle cx="1140.0" cy="245.8" r="2.35"/><circle cx="1155.4" cy="247.5" r="2.35"/><circle cx="1163.9" cy="249.2" r="2.35"/><circle cx="1134.9" cy="251.7" r="2.35"/><circle cx="1189.9" cy="251.7" r="2.35"/><circle cx="1239.3" cy="252.1" r="2.35"/><circle cx="1155.2" cy="255.0" r="2.35"/><circle cx="1158.0" cy="256.7" r="2.35"/><circle cx="1139.1" cy="258.2" r="2.35"/><circle cx="1162.8" cy="260.5" r="2.35"/><circle cx="1199.1" cy="260.0" r="2.35"/><circle cx="1177.8" cy="262.2" r="2.35"/><circle cx="1139.1" cy="263.6" r="2.35"/><circle cx="1194.1" cy="265.5" r="2.35"/><circle cx="1175.0" cy="266.7" r="2.35"/><circle cx="1177.8" cy="270.4" r="2.35"/><circle cx="1118.5" cy="272.9" r="2.35"/><circle cx="1170.3" cy="274.6" r="2.35"/><circle cx="1132.7" cy="275.5" r="2.35"/><circle cx="1170.5" cy="276.5" r="2.35"/><circle cx="1138.7" cy="276.8" r="2.35"/><circle cx="1143.9" cy="279.1" r="2.35"/><circle cx="1126.7" cy="278.9" r="2.35"/><circle cx="1109.4" cy="280.4" r="2.35"/><circle cx="1128.9" cy="283.0" r="2.35"/><circle cx="1176.1" cy="283.0" r="2.35"/><circle cx="1141.3" cy="283.9" r="2.35"/><circle cx="1138.0" cy="285.6" r="2.35"/><circle cx="1163.3" cy="286.4" r="2.35"/><circle cx="1165.8" cy="286.4" r="2.35"/><circle cx="1111.4" cy="285.9" r="2.35"/><circle cx="1114.3" cy="286.4" r="2.35"/><circle cx="1116.5" cy="288.7" r="2.35"/><circle cx="1120.5" cy="288.7" r="2.35"/><circle cx="1130.1" cy="290.4" r="2.35"/><circle cx="1113.1" cy="292.1" r="2.35"/><circle cx="1123.9" cy="292.6" r="2.35"/><circle cx="1126.1" cy="294.9" r="2.35"/><circle cx="1145.9" cy="294.3" r="2.35"/><circle cx="1131.2" cy="295.4" r="2.35"/><circle cx="1136.8" cy="295.2" r="2.35"/><circle cx="1139.6" cy="297.7" r="2.35"/><circle cx="1154.7" cy="297.4" r="2.35"/><circle cx="1112.0" cy="297.7" r="2.35"/><circle cx="1120.5" cy="296.6" r="2.35"/><circle cx="1116.0" cy="299.4" r="2.35"/><circle cx="1126.1" cy="301.1" r="2.35"/><circle cx="1149.8" cy="301.7" r="2.35"/><circle cx="1110.3" cy="302.2" r="2.35"/><circle cx="1131.2" cy="303.1" r="2.35"/><circle cx="1163.9" cy="303.6" r="2.35"/><circle cx="1183.7" cy="303.1" r="2.35"/><circle cx="1112.6" cy="305.0" r="2.35"/><circle cx="1116.5" cy="305.0" r="2.35"/><circle cx="1122.7" cy="304.5" r="2.35"/><circle cx="1125.0" cy="306.7" r="2.35"/><circle cx="1109.2" cy="307.9" r="2.35"/><circle cx="1114.3" cy="308.4" r="2.35"/><circle cx="1118.2" cy="309.0" r="2.35"/><circle cx="1106.9" cy="310.7" r="2.35"/><circle cx="1111.4" cy="311.2" r="2.35"/><circle cx="1116.0" cy="310.7" r="2.35"/><circle cx="1122.7" cy="310.1" r="2.35"/><circle cx="1127.2" cy="310.7" r="2.35"/><circle cx="1170.1" cy="310.3" r="2.35"/><circle cx="1167.1" cy="312.9" r="2.35"/><circle cx="1142.1" cy="312.9" r="2.35"/><circle cx="1148.1" cy="311.2" r="2.35"/><circle cx="1145.3" cy="314.4" r="2.35"/><circle cx="1148.1" cy="314.6" r="2.35"/><circle cx="1108.6" cy="313.5" r="2.35"/><circle cx="1113.1" cy="314.1" r="2.35"/><circle cx="1110.3" cy="318.0" r="2.35"/><circle cx="1114.8" cy="318.6" r="2.35"/><circle cx="1119.3" cy="318.0" r="2.35"/><circle cx="1121.0" cy="317.4" r="2.35"/><circle cx="1127.2" cy="319.1" r="2.35"/><circle cx="1135.7" cy="319.9" r="2.35"/><circle cx="1148.1" cy="319.1" r="2.35"/><circle cx="1156.6" cy="320.3" r="2.35"/><circle cx="1145.0" cy="322.5" r="2.35"/><circle cx="1124.4" cy="321.4" r="2.35"/><circle cx="1128.9" cy="322.0" r="2.35"/><circle cx="1106.9" cy="323.7" r="2.35"/><circle cx="1111.4" cy="323.1" r="2.35"/><circle cx="1116.0" cy="323.7" r="2.35"/><circle cx="1119.3" cy="323.7" r="2.35"/><circle cx="1132.9" cy="323.7" r="2.35"/><circle cx="1105.2" cy="325.3" r="2.35"/><circle cx="1109.2" cy="325.9" r="2.35"/><circle cx="1113.1" cy="327.0" r="2.35"/><circle cx="1117.6" cy="325.9" r="2.35"/><circle cx="1123.9" cy="327.6" r="2.35"/><circle cx="1134.6" cy="327.3" r="2.35"/><circle cx="1156.8" cy="326.2" r="2.35"/><circle cx="1106.9" cy="328.2" r="2.35"/><circle cx="1110.3" cy="327.9" r="2.35"/><circle cx="1154.4" cy="212.3" r="2.35"/><circle cx="1172.4" cy="218.2" r="2.35"/><circle cx="1178.3" cy="222.9" r="2.35"/><circle cx="1180.4" cy="224.2" r="2.35"/><circle cx="1239.2" cy="252.1" r="2.35"/><circle cx="1278.5" cy="288.5" r="2.35"/><circle cx="981.2" cy="406.8" r="2.35"/><circle cx="1016.5" cy="398.9" r="2.35"/><circle cx="1010.5" cy="406.9" r="2.35"/><circle cx="1013.3" cy="406.7" r="2.35"/><circle cx="1016.2" cy="412.9" r="2.35"/><circle cx="1004.9" cy="418.0" r="2.35"/><circle cx="1007.5" cy="416.8" r="2.35"/><circle cx="1011.1" cy="424.4" r="2.35"/><circle cx="982.9" cy="427.8" r="2.35"/><circle cx="985.7" cy="425.3" r="2.35"/><circle cx="1021.5" cy="424.2" r="2.35"/><circle cx="1024.1" cy="425.3" r="2.35"/><circle cx="1030.3" cy="425.9" r="2.35"/><circle cx="1029.7" cy="430.4" r="2.35"/><circle cx="1045.7" cy="428.7" r="2.35"/><circle cx="998.4" cy="434.1" r="2.35"/><circle cx="1007.7" cy="433.2" r="2.35"/><circle cx="1010.0" cy="431.5" r="2.35"/><circle cx="1014.8" cy="432.1" r="2.35"/><circle cx="1019.3" cy="433.8" r="2.35"/><circle cx="1026.3" cy="435.7" r="2.35"/><circle cx="1031.7" cy="436.6" r="2.35"/><circle cx="1032.0" cy="439.4" r="2.35"/><circle cx="1010.0" cy="440.2" r="2.35"/><circle cx="1024.4" cy="441.4" r="2.35"/><circle cx="1037.4" cy="441.1" r="2.35"/><circle cx="1048.9" cy="442.8" r="2.35"/><circle cx="958.8" cy="437.2" r="2.35"/><circle cx="999.8" cy="454.9" r="2.35"/><circle cx="1000.9" cy="457.4" r="2.35"/><circle cx="1011.7" cy="456.0" r="2.35"/><circle cx="1013.9" cy="457.2" r="2.35"/><circle cx="1030.6" cy="458.3" r="2.35"/><circle cx="1034.6" cy="478.1" r="2.35"/><circle cx="1038.5" cy="476.1" r="2.35"/><circle cx="1005.1" cy="486.2" r="2.35"/><circle cx="1034.8" cy="496.6" r="2.35"/><circle cx="1039.0" cy="316.7" r="2.35"/></g>
<g fill="#ff0000"><circle cx="1206.6" cy="93.6" r="2.2"/><circle cx="1258.2" cy="138.7" r="2.2"/><circle cx="1254.4" cy="140.8" r="2.2"/><circle cx="1260.1" cy="147.8" r="2.2"/><circle cx="1246.8" cy="155.0" r="2.2"/><circle cx="1235.6" cy="167.7" r="2.2"/><circle cx="1327.0" cy="134.7" r="2.2"/><circle cx="1342.6" cy="170.0" r="2.2"/><circle cx="1191.4" cy="189.3" r="2.2"/><circle cx="1217.4" cy="211.7" r="2.2"/><circle cx="1196.7" cy="225.4" r="2.2"/><circle cx="1187.6" cy="231.6" r="2.2"/></g>
<g fill="#0000ff"><circle cx="959.2" cy="466.8" r="2.2"/><circle cx="965.7" cy="466.8" r="2.2"/><circle cx="977.6" cy="469.3" r="2.2"/><circle cx="977.6" cy="474.7" r="2.2"/><circle cx="996.3" cy="468.8" r="2.2"/><circle cx="973.3" cy="480.0" r="2.2"/><circle cx="962.9" cy="482.8" r="2.2"/><circle cx="974.6" cy="485.8" r="2.2"/><circle cx="959.2" cy="504.0" r="2.2"/><circle cx="928.5" cy="490.2" r="2.2"/><circle cx="982.2" cy="547.8" r="2.2"/><circle cx="863.1" cy="569.1" r="2.2"/></g>
<text x="1186.9" y="103.6" font-size="12.5" fill="#0a0a0a" textLength="41.4" lengthAdjust="spacingAndGlyphs">RPS26</text>
<text x="1251.0" y="135.1" font-size="12.5" fill="#0a0a0a" textLength="42.2" lengthAdjust="spacingAndGlyphs">HSPD1</text>
<text x="1303.9" y="144.6" font-size="12.5" fill="#0a0a0a" textLength="49.2" lengthAdjust="spacingAndGlyphs">HSPA1A</text>
<text x="1211.2" y="150.5" font-size="12.5" fill="#0a0a0a" textLength="65.1" lengthAdjust="spacingAndGlyphs">HSP90AA1</text>
<text x="1260.3" y="157.3" font-size="12.5" fill="#0a0a0a" textLength="42.0" lengthAdjust="spacingAndGlyphs">HSPH1</text>
<text x="1226.0" y="164.7" font-size="12.5" fill="#0a0a0a" textLength="41.8" lengthAdjust="spacingAndGlyphs">HSPE1</text>
<text x="1331.2" y="166.4" font-size="12.5" fill="#0a0a0a">HSPA1B</text>
<text x="1207.8" y="177.0" font-size="12.5" fill="#0a0a0a" textLength="64.3" lengthAdjust="spacingAndGlyphs">HSP90AB1</text>
<text x="1168.5" y="199.4" font-size="12.5" fill="#0a0a0a" textLength="48.1" lengthAdjust="spacingAndGlyphs">DNAJA1</text>
<text x="1206.6" y="208.1" font-size="12.5" fill="#0a0a0a" textLength="52.8" lengthAdjust="spacingAndGlyphs">CACYBP</text>
<text x="1187.1" y="221.8" font-size="12.5" fill="#0a0a0a" textLength="47.3" lengthAdjust="spacingAndGlyphs">ATP1B3</text>
<text x="1189.0" y="241.3" font-size="12.5" fill="#0a0a0a" textLength="57.7" lengthAdjust="spacingAndGlyphs">ZFAND2A</text>
<text x="923.8" y="451.7" font-size="12.5" fill="#0a0a0a" textLength="49.8" lengthAdjust="spacingAndGlyphs">MYL12A</text>
<text x="933.5" y="463.6" font-size="12.5" fill="#0a0a0a" textLength="32.9" lengthAdjust="spacingAndGlyphs">CD52</text>
<text x="962.7" y="463.0" font-size="12.5" fill="#0a0a0a" textLength="50.3" lengthAdjust="spacingAndGlyphs">TMSB4X</text>
<text x="945.8" y="476.1" font-size="12.5" fill="#0a0a0a" textLength="33.8" lengthAdjust="spacingAndGlyphs">HOPX</text>
<text x="1001.7" y="472.7" font-size="12.5" fill="#0a0a0a" textLength="32.9" lengthAdjust="spacingAndGlyphs">CD69</text>
<text x="978.0" y="484.5" font-size="12.5" fill="#0a0a0a" textLength="29.1" lengthAdjust="spacingAndGlyphs">IER2</text>
<text x="934.2" y="487.7" font-size="12.5" fill="#0a0a0a" textLength="36.5" lengthAdjust="spacingAndGlyphs">GZMB</text>
<text x="963.6" y="496.6" font-size="12.5" fill="#0a0a0a" textLength="37.8" lengthAdjust="spacingAndGlyphs">GZMA</text>
<text x="909.8" y="500.0" font-size="12.5" fill="#0a0a0a" textLength="34.9" lengthAdjust="spacingAndGlyphs">NKG7</text>
<text x="936.7" y="513.7" font-size="12.5" fill="#0a0a0a" textLength="46.0" lengthAdjust="spacingAndGlyphs">S100A4</text>
<text x="963.6" y="557.5" font-size="12.5" fill="#0a0a0a" textLength="35.0" lengthAdjust="spacingAndGlyphs">MT1X</text>
<text x="858.4" y="565.5" font-size="12.5" fill="#0a0a0a" textLength="32.9" lengthAdjust="spacingAndGlyphs">GNLY</text>
<path d="M958.4 449.9L965.2 464.8" stroke="#000" stroke-width="2.6" fill="none"/><path d="M977.6 469.5V474.8" stroke="#000" stroke-width="1.8" fill="none"/>
</g>
<text x="854.3" y="623.2" font-size="24.2" fill="#000" textLength="448.0" lengthAdjust="spacingAndGlyphs">CD8+T cell ADT+ VS ADT- _avg_log2FC</text>
<text x="824.0" y="513.2" font-size="25.4" fill="#000" textLength="443.6" lengthAdjust="spacingAndGlyphs" transform="rotate(-90 824.0 513.2)" xml:space="preserve">CD4+T cell ADT+  VS ADT- _avg_log2FC</text>
<g fill="#00bdf4"><rect x="1261.4" y="752.0" width="157.1" height="11.3"/><rect x="1261.4" y="764.6" width="105.9" height="11.3"/><rect x="1261.4" y="777.2" width="85.2" height="11.3"/><rect x="1261.4" y="789.8" width="84.9" height="11.3"/><rect x="1261.4" y="802.4" width="79.1" height="11.3"/><rect x="1261.4" y="815.0" width="71.7" height="11.3"/><rect x="1261.4" y="827.6" width="70.0" height="11.3"/><rect x="1261.4" y="840.2" width="66.5" height="11.3"/><rect x="1261.4" y="852.8" width="57.5" height="11.3"/><rect x="1261.4" y="865.5" width="40.3" height="11.3"/><rect x="1261.4" y="878.1" width="39.4" height="11.3"/><rect x="1261.4" y="890.7" width="35.5" height="11.3"/><rect x="1261.4" y="903.3" width="28.1" height="11.3"/><rect x="1261.4" y="915.9" width="25.8" height="11.3"/><rect x="1261.4" y="928.5" width="24.5" height="11.3"/><rect x="1261.4" y="941.1" width="23.5" height="11.3"/><rect x="1261.4" y="953.7" width="19.3" height="11.3"/><rect x="1261.4" y="966.4" width="12.2" height="11.3"/><rect x="1261.4" y="979.0" width="4.8" height="11.3"/><rect x="1261.4" y="991.6" width="4.2" height="11.3"/></g>
<g fill="#ff87ee"><rect x="1260.5" y="1004.2" width="0.9" height="11.3"/><rect x="1258.1" y="1016.8" width="3.3" height="11.3"/><rect x="1252.6" y="1029.4" width="8.8" height="11.3"/><rect x="1251.0" y="1042.0" width="10.4" height="11.3"/><rect x="1249.1" y="1054.6" width="12.3" height="11.3"/><rect x="1244.6" y="1067.3" width="16.8" height="11.3"/><rect x="1242.3" y="1079.9" width="19.1" height="11.3"/><rect x="1240.7" y="1092.5" width="20.7" height="11.3"/><rect x="1236.8" y="1105.1" width="24.6" height="11.3"/><rect x="1235.2" y="1117.7" width="26.2" height="11.3"/><rect x="1229.7" y="1130.3" width="31.7" height="11.3"/><rect x="1217.1" y="1142.9" width="44.3" height="11.3"/><rect x="1213.6" y="1155.5" width="47.8" height="11.3"/><rect x="1209.4" y="1168.2" width="52.0" height="11.3"/><rect x="1198.0" y="1180.8" width="63.4" height="11.3"/><rect x="1190.9" y="1193.4" width="70.5" height="11.3"/><rect x="1189.3" y="1206.0" width="72.1" height="11.3"/><rect x="1183.8" y="1218.6" width="77.6" height="11.3"/><rect x="1181.9" y="1231.2" width="79.5" height="11.3"/><rect x="1176.1" y="1243.8" width="85.3" height="11.3"/><rect x="1159.3" y="1256.4" width="102.1" height="11.3"/><rect x="1156.1" y="1269.1" width="105.3" height="11.3"/><rect x="1141.8" y="1281.7" width="119.6" height="11.3"/><rect x="1126.0" y="1294.3" width="135.4" height="11.3"/><rect x="1110.2" y="1306.9" width="151.2" height="11.3"/><rect x="1109.9" y="1319.5" width="151.5" height="11.3"/><rect x="1108.6" y="1332.1" width="152.8" height="11.3"/><rect x="1067.9" y="1344.7" width="193.5" height="11.3"/><rect x="1029.1" y="1357.3" width="232.3" height="11.3"/><rect x="1026.9" y="1369.9" width="234.5" height="11.3"/></g>
<g font-size="8.5" fill="#4d4d4d" text-anchor="end"><text x="1002.6" y="760.5">HALLMARK_MYC_TARGETS_V2</text><text x="1002.6" y="773.1">HALLMARK_UNFOLDED_PROTEIN_RESPONSE</text><text x="1002.6" y="785.7">HALLMARK_UV_RESPONSE_UP</text><text x="1002.6" y="798.3">HALLMARK_MTORC1_SIGNALING</text><text x="1002.6" y="810.9">HALLMARK_G2M_CHECKPOINT</text><text x="1002.6" y="823.6">HALLMARK_SPERMATOGENESIS</text><text x="1002.6" y="836.2">HALLMARK_ESTROGEN_RESPONSE_EARLY</text><text x="1002.6" y="848.8">HALLMARK_APICAL_SURFACE</text><text x="1002.6" y="861.4">HALLMARK_BILE_ACID_METABOLISM</text><text x="1002.6" y="874.0">HALLMARK_WNT_BETA_CATENIN_SIGNALING</text><text x="1002.6" y="886.6">HALLMARK_CHOLESTEROL_HOMEOSTASIS</text><text x="1002.6" y="899.2">HALLMARK_UV_RESPONSE_DN</text><text x="1002.6" y="911.8">HALLMARK_MITOTIC_SPINDLE</text><text x="1002.6" y="924.5">HALLMARK_APOPTOSIS</text><text x="1002.6" y="937.1">HALLMARK_HEME_METABOLISM</text><text x="1002.6" y="949.7">HALLMARK_ESTROGEN_RESPONSE_LATE</text><text x="1002.6" y="962.3">HALLMARK_ANDROGEN_RESPONSE</text><text x="1002.6" y="974.9">HALLMARK_FATTY_ACID_METABOLISM</text><text x="1002.6" y="987.5">HALLMARK_PROTEIN_SECRETION</text><text x="1002.6" y="1000.1">HALLMARK_MYC_TARGETS_V1</text><text x="1002.6" y="1012.7">HALLMARK_TGF_BETA_SIGNALING</text><text x="1002.6" y="1025.4">HALLMARK_HEDGEHOG_SIGNALING</text><text x="1002.6" y="1038.0">HALLMARK_E2F_TARGETS</text><text x="1002.6" y="1050.6">HALLMARK_PEROXISOME</text><text x="1002.6" y="1063.2">HALLMARK_NOTCH_SIGNALING</text><text x="1002.6" y="1075.8">HALLMARK_GLYCOLYSIS</text><text x="1002.6" y="1088.4">HALLMARK_REACTIVE_OXYGEN_SPECIES_PATHWAY</text><text x="1002.6" y="1101.0">HALLMARK_MYOGENESIS</text><text x="1002.6" y="1113.6">HALLMARK_TNFA_SIGNALING_VIA_NFKB</text><text x="1002.6" y="1126.3">HALLMARK_KRAS_SIGNALING_DN</text><text x="1002.6" y="1138.9">HALLMARK_XENOBIOTIC_METABOLISM</text><text x="1002.6" y="1151.5">HALLMARK_ADIPOGENESIS</text><text x="1002.6" y="1164.1">HALLMARK_IL6_JAK_STAT3_SIGNALING</text><text x="1002.6" y="1176.7">HALLMARK_IL2_STAT5_SIGNALING</text><text x="1002.6" y="1189.3">HALLMARK_DNA_REPAIR</text><text x="1002.6" y="1201.9">HALLMARK_COAGULATION</text><text x="1002.6" y="1214.5">HALLMARK_PI3K_AKT_MTOR_SIGNALING</text><text x="1002.6" y="1227.2">HALLMARK_PANCREAS_BETA_CELLS</text><text x="1002.6" y="1239.8">HALLMARK_KRAS_SIGNALING_UP</text><text x="1002.6" y="1252.4">HALLMARK_HYPOXIA</text><text x="1002.6" y="1265.0">HALLMARK_P53_PATHWAY</text><text x="1002.6" y="1277.6">HALLMARK_OXIDATIVE_PHOSPHORYLATION</text><text x="1002.6" y="1290.2">HALLMARK_COMPLEMENT</text><text x="1002.6" y="1302.8">HALLMARK_EPITHELIAL_MESENCHYMAL_TRANSITION</text><text x="1002.6" y="1315.4">HALLMARK_ANGIOGENESIS</text><text x="1002.6" y="1328.1">HALLMARK_INFLAMMATORY_RESPONSE</text><text x="1002.6" y="1340.7">HALLMARK_INTERFERON_GAMMA_RESPONSE</text><text x="1002.6" y="1353.3">HALLMARK_INTERFERON_ALPHA_RESPONSE</text><text x="1002.6" y="1365.9">HALLMARK_ALLOGRAFT_REJECTION</text><text x="1002.6" y="1378.5">HALLMARK_APICAL_JUNCTION</text></g>
<g fill="#222"><rect x="1004.6" y="756.2" width="2.8" height="2.8"/><rect x="1004.6" y="768.8" width="2.8" height="2.8"/><rect x="1004.6" y="781.4" width="2.8" height="2.8"/><rect x="1004.6" y="794.0" width="2.8" height="2.8"/><rect x="1004.6" y="806.6" width="2.8" height="2.8"/><rect x="1004.6" y="819.3" width="2.8" height="2.8"/><rect x="1004.6" y="831.9" width="2.8" height="2.8"/><rect x="1004.6" y="844.5" width="2.8" height="2.8"/><rect x="1004.6" y="857.1" width="2.8" height="2.8"/><rect x="1004.6" y="869.7" width="2.8" height="2.8"/><rect x="1004.6" y="882.3" width="2.8" height="2.8"/><rect x="1004.6" y="894.9" width="2.8" height="2.8"/><rect x="1004.6" y="907.5" width="2.8" height="2.8"/><rect x="1004.6" y="920.2" width="2.8" height="2.8"/><rect x="1004.6" y="932.8" width="2.8" height="2.8"/><rect x="1004.6" y="945.4" width="2.8" height="2.8"/><rect x="1004.6" y="958.0" width="2.8" height="2.8"/><rect x="1004.6" y="970.6" width="2.8" height="2.8"/><rect x="1004.6" y="983.2" width="2.8" height="2.8"/><rect x="1004.6" y="995.8" width="2.8" height="2.8"/><rect x="1004.6" y="1008.4" width="2.8" height="2.8"/><rect x="1004.6" y="1021.1" width="2.8" height="2.8"/><rect x="1004.6" y="1033.7" width="2.8" height="2.8"/><rect x="1004.6" y="1046.3" width="2.8" height="2.8"/><rect x="1004.6" y="1058.9" width="2.8" height="2.8"/><rect x="1004.6" y="1071.5" width="2.8" height="2.8"/><rect x="1004.6" y="1084.1" width="2.8" height="2.8"/><rect x="1004.6" y="1096.7" width="2.8" height="2.8"/><rect x="1004.6" y="1109.3" width="2.8" height="2.8"/><rect x="1004.6" y="1122.0" width="2.8" height="2.8"/><rect x="1004.6" y="1134.6" width="2.8" height="2.8"/><rect x="1004.6" y="1147.2" width="2.8" height="2.8"/><rect x="1004.6" y="1159.8" width="2.8" height="2.8"/><rect x="1004.6" y="1172.4" width="2.8" height="2.8"/><rect x="1004.6" y="1185.0" width="2.8" height="2.8"/><rect x="1004.6" y="1197.6" width="2.8" height="2.8"/><rect x="1004.6" y="1210.2" width="2.8" height="2.8"/><rect x="1004.6" y="1222.9" width="2.8" height="2.8"/><rect x="1004.6" y="1235.5" width="2.8" height="2.8"/><rect x="1004.6" y="1248.1" width="2.8" height="2.8"/><rect x="1004.6" y="1260.7" width="2.8" height="2.8"/><rect x="1004.6" y="1273.3" width="2.8" height="2.8"/><rect x="1004.6" y="1285.9" width="2.8" height="2.8"/><rect x="1004.6" y="1298.5" width="2.8" height="2.8"/><rect x="1004.6" y="1311.1" width="2.8" height="2.8"/><rect x="1004.6" y="1323.8" width="2.8" height="2.8"/><rect x="1004.6" y="1336.4" width="2.8" height="2.8"/><rect x="1004.6" y="1349.0" width="2.8" height="2.8"/><rect x="1004.6" y="1361.6" width="2.8" height="2.8"/><rect x="1004.6" y="1374.2" width="2.8" height="2.8"/></g>
<rect x="994.7" y="1388.7" width="2.6" height="2.6" fill="#222"/>
<text x="996.0" y="1400.2" font-size="8.6" fill="#4d4d4d" text-anchor="middle">−20</text>
<rect x="1127.3" y="1388.7" width="2.6" height="2.6" fill="#222"/>
<text x="1128.6" y="1400.2" font-size="8.6" fill="#4d4d4d" text-anchor="middle">−10</text>
<rect x="1260.3" y="1388.7" width="2.6" height="2.6" fill="#222"/>
<text x="1261.6" y="1400.2" font-size="8.6" fill="#4d4d4d" text-anchor="middle">0</text>
<rect x="1393.7" y="1388.7" width="2.6" height="2.6" fill="#222"/>
<text x="1395.0" y="1400.2" font-size="8.6" fill="#4d4d4d" text-anchor="middle">10</text>
<text x="1055.0" y="1420.6" font-size="16" fill="#000" textLength="355.5" lengthAdjust="spacingAndGlyphs">t value of GSVA score -CD4 T cell (ADT+ vs ADT-)</text>
<rect x="777.5" y="1330.8" width="248.70000000000005" height="25.100000000000136" fill="none" stroke="#f5141c" stroke-width="2.6"/>
<g fill="#00bdf4"><rect x="549.1" y="1443.0" width="104.0" height="11.3"/><rect x="549.1" y="1455.5" width="101.8" height="11.3"/><rect x="549.1" y="1467.9" width="100.2" height="11.3"/><rect x="549.1" y="1480.3" width="88.5" height="11.3"/><rect x="549.1" y="1492.7" width="75.9" height="11.3"/><rect x="549.1" y="1505.1" width="67.9" height="11.3"/><rect x="549.1" y="1517.5" width="63.0" height="11.3"/><rect x="549.1" y="1529.9" width="35.2" height="11.3"/><rect x="549.1" y="1542.3" width="27.2" height="11.3"/><rect x="549.1" y="1554.7" width="23.3" height="11.3"/><rect x="549.1" y="1567.1" width="20.1" height="11.3"/><rect x="549.1" y="1579.5" width="17.5" height="11.3"/><rect x="549.1" y="1591.9" width="16.5" height="11.3"/><rect x="549.1" y="1604.4" width="10.0" height="11.3"/><rect x="549.1" y="1616.8" width="1.6" height="11.3"/></g>
<g fill="#ff87ee"><rect x="548.8" y="1629.2" width="0.3" height="11.3"/><rect x="547.8" y="1641.6" width="1.3" height="11.3"/><rect x="537.5" y="1654.0" width="11.6" height="11.3"/><rect x="536.2" y="1666.4" width="12.9" height="11.3"/><rect x="523.0" y="1678.8" width="26.1" height="11.3"/><rect x="520.1" y="1691.2" width="29.0" height="11.3"/><rect x="514.9" y="1703.6" width="34.2" height="11.3"/><rect x="512.0" y="1716.0" width="37.1" height="11.3"/><rect x="509.4" y="1728.4" width="39.7" height="11.3"/><rect x="507.1" y="1740.8" width="42.0" height="11.3"/><rect x="504.9" y="1753.3" width="44.2" height="11.3"/><rect x="504.6" y="1765.7" width="44.5" height="11.3"/><rect x="499.1" y="1778.1" width="50.0" height="11.3"/><rect x="493.9" y="1790.5" width="55.2" height="11.3"/><rect x="493.6" y="1802.9" width="55.5" height="11.3"/><rect x="479.0" y="1815.3" width="70.1" height="11.3"/><rect x="477.4" y="1827.7" width="71.7" height="11.3"/><rect x="472.3" y="1840.1" width="76.8" height="11.3"/><rect x="471.9" y="1852.5" width="77.2" height="11.3"/><rect x="466.4" y="1864.9" width="82.7" height="11.3"/><rect x="461.6" y="1877.3" width="87.5" height="11.3"/><rect x="444.8" y="1889.7" width="104.3" height="11.3"/><rect x="433.8" y="1902.2" width="115.3" height="11.3"/><rect x="429.6" y="1914.6" width="119.5" height="11.3"/><rect x="395.7" y="1927.0" width="153.4" height="11.3"/><rect x="394.1" y="1939.4" width="155.0" height="11.3"/><rect x="390.9" y="1951.8" width="158.2" height="11.3"/><rect x="389.3" y="1964.2" width="159.8" height="11.3"/><rect x="371.8" y="1976.6" width="177.3" height="11.3"/><rect x="369.9" y="1989.0" width="179.2" height="11.3"/><rect x="345.3" y="2001.4" width="203.8" height="11.3"/><rect x="297.5" y="2013.8" width="251.6" height="11.3"/><rect x="296.5" y="2026.2" width="252.6" height="11.3"/><rect x="291.1" y="2038.6" width="258.0" height="11.3"/><rect x="267.8" y="2051.0" width="281.3" height="11.3"/></g>
<g font-size="8.4" fill="#4d4d4d" text-anchor="end"><text x="243.6" y="1451.6">HALLMARK_ESTROGEN_RESPONSE_EARLY</text><text x="243.6" y="1464.0">HALLMARK_MYC_TARGETS_V2</text><text x="243.6" y="1476.4">HALLMARK_UNFOLDED_PROTEIN_RESPONSE</text><text x="243.6" y="1488.8">HALLMARK_SPERMATOGENESIS</text><text x="243.6" y="1501.2">HALLMARK_G2M_CHECKPOINT</text><text x="243.6" y="1513.6">HALLMARK_ESTROGEN_RESPONSE_LATE</text><text x="243.6" y="1526.0">HALLMARK_UV_RESPONSE_UP</text><text x="243.6" y="1538.5">HALLMARK_WNT_BETA_CATENIN_SIGNALING</text><text x="243.6" y="1550.9">HALLMARK_TGF_BETA_SIGNALING</text><text x="243.6" y="1563.3">HALLMARK_KRAS_SIGNALING_DN</text><text x="243.6" y="1575.7">HALLMARK_HEDGEHOG_SIGNALING</text><text x="243.6" y="1588.1">HALLMARK_GLYCOLYSIS</text><text x="243.6" y="1600.5">HALLMARK_APICAL_SURFACE</text><text x="243.6" y="1612.9">HALLMARK_MTORC1_SIGNALING</text><text x="243.6" y="1625.3">HALLMARK_MYOGENESIS</text><text x="243.6" y="1637.7">HALLMARK_UV_RESPONSE_DN</text><text x="243.6" y="1650.1">HALLMARK_MITOTIC_SPINDLE</text><text x="243.6" y="1662.5">HALLMARK_HYPOXIA</text><text x="243.6" y="1674.9">HALLMARK_CHOLESTEROL_HOMEOSTASIS</text><text x="243.6" y="1687.4">HALLMARK_MYC_TARGETS_V1</text><text x="243.6" y="1699.8">HALLMARK_XENOBIOTIC_METABOLISM</text><text x="243.6" y="1712.2">HALLMARK_HEME_METABOLISM</text><text x="243.6" y="1724.6">HALLMARK_APOPTOSIS</text><text x="243.6" y="1737.0">HALLMARK_COAGULATION</text><text x="243.6" y="1749.4">HALLMARK_FATTY_ACID_METABOLISM</text><text x="243.6" y="1761.8">HALLMARK_KRAS_SIGNALING_UP</text><text x="243.6" y="1774.2">HALLMARK_NOTCH_SIGNALING</text><text x="243.6" y="1786.6">HALLMARK_BILE_ACID_METABOLISM</text><text x="243.6" y="1799.0">HALLMARK_P53_PATHWAY</text><text x="243.6" y="1811.4">HALLMARK_TNFA_SIGNALING_VIA_NFKB</text><text x="243.6" y="1823.8">HALLMARK_PROTEIN_SECRETION</text><text x="243.6" y="1836.3">HALLMARK_ANDROGEN_RESPONSE</text><text x="243.6" y="1848.7">HALLMARK_PEROXISOME</text><text x="243.6" y="1861.1">HALLMARK_E2F_TARGETS</text><text x="243.6" y="1873.5">HALLMARK_IL6_JAK_STAT3_SIGNALING</text><text x="243.6" y="1885.9">HALLMARK_PANCREAS_BETA_CELLS</text><text x="243.6" y="1898.3">HALLMARK_ADIPOGENESIS</text><text x="243.6" y="1910.7">HALLMARK_IL2_STAT5_SIGNALING</text><text x="243.6" y="1923.1">HALLMARK_REACTIVE_OXYGEN_SPECIES_PATHWAY</text><text x="243.6" y="1935.5">HALLMARK_INFLAMMATORY_RESPONSE</text><text x="243.6" y="1947.9">HALLMARK_PI3K_AKT_MTOR_SIGNALING</text><text x="243.6" y="1960.3">HALLMARK_ANGIOGENESIS</text><text x="243.6" y="1972.7">HALLMARK_DNA_REPAIR</text><text x="243.6" y="1985.2">HALLMARK_COMPLEMENT</text><text x="243.6" y="1997.6">HALLMARK_EPITHELIAL_MESENCHYMAL_TRANSITION</text><text x="243.6" y="2010.0">HALLMARK_APICAL_JUNCTION</text><text x="243.6" y="2022.4">HALLMARK_INTERFERON_GAMMA_RESPONSE</text><text x="243.6" y="2034.8">HALLMARK_INTERFERON_ALPHA_RESPONSE</text><text x="243.6" y="2047.2">HALLMARK_OXIDATIVE_PHOSPHORYLATION</text><text x="243.6" y="2059.6">HALLMARK_ALLOGRAFT_REJECTION</text></g>
<g fill="#222"><rect x="246.0" y="1447.3" width="2.8" height="2.8"/><rect x="246.0" y="1459.7" width="2.8" height="2.8"/><rect x="246.0" y="1472.1" width="2.8" height="2.8"/><rect x="246.0" y="1484.5" width="2.8" height="2.8"/><rect x="246.0" y="1496.9" width="2.8" height="2.8"/><rect x="246.0" y="1509.3" width="2.8" height="2.8"/><rect x="246.0" y="1521.7" width="2.8" height="2.8"/><rect x="246.0" y="1534.2" width="2.8" height="2.8"/><rect x="246.0" y="1546.6" width="2.8" height="2.8"/><rect x="246.0" y="1559.0" width="2.8" height="2.8"/><rect x="246.0" y="1571.4" width="2.8" height="2.8"/><rect x="246.0" y="1583.8" width="2.8" height="2.8"/><rect x="246.0" y="1596.2" width="2.8" height="2.8"/><rect x="246.0" y="1608.6" width="2.8" height="2.8"/><rect x="246.0" y="1621.0" width="2.8" height="2.8"/><rect x="246.0" y="1633.4" width="2.8" height="2.8"/><rect x="246.0" y="1645.8" width="2.8" height="2.8"/><rect x="246.0" y="1658.2" width="2.8" height="2.8"/><rect x="246.0" y="1670.6" width="2.8" height="2.8"/><rect x="246.0" y="1683.1" width="2.8" height="2.8"/><rect x="246.0" y="1695.5" width="2.8" height="2.8"/><rect x="246.0" y="1707.9" width="2.8" height="2.8"/><rect x="246.0" y="1720.3" width="2.8" height="2.8"/><rect x="246.0" y="1732.7" width="2.8" height="2.8"/><rect x="246.0" y="1745.1" width="2.8" height="2.8"/><rect x="246.0" y="1757.5" width="2.8" height="2.8"/><rect x="246.0" y="1769.9" width="2.8" height="2.8"/><rect x="246.0" y="1782.3" width="2.8" height="2.8"/><rect x="246.0" y="1794.7" width="2.8" height="2.8"/><rect x="246.0" y="1807.1" width="2.8" height="2.8"/><rect x="246.0" y="1819.5" width="2.8" height="2.8"/><rect x="246.0" y="1832.0" width="2.8" height="2.8"/><rect x="246.0" y="1844.4" width="2.8" height="2.8"/><rect x="246.0" y="1856.8" width="2.8" height="2.8"/><rect x="246.0" y="1869.2" width="2.8" height="2.8"/><rect x="246.0" y="1881.6" width="2.8" height="2.8"/><rect x="246.0" y="1894.0" width="2.8" height="2.8"/><rect x="246.0" y="1906.4" width="2.8" height="2.8"/><rect x="246.0" y="1918.8" width="2.8" height="2.8"/><rect x="246.0" y="1931.2" width="2.8" height="2.8"/><rect x="246.0" y="1943.6" width="2.8" height="2.8"/><rect x="246.0" y="1956.0" width="2.8" height="2.8"/><rect x="246.0" y="1968.4" width="2.8" height="2.8"/><rect x="246.0" y="1980.9" width="2.8" height="2.8"/><rect x="246.0" y="1993.3" width="2.8" height="2.8"/><rect x="246.0" y="2005.7" width="2.8" height="2.8"/><rect x="246.0" y="2018.1" width="2.8" height="2.8"/><rect x="246.0" y="2030.5" width="2.8" height="2.8"/><rect x="246.0" y="2042.9" width="2.8" height="2.8"/><rect x="246.0" y="2055.3" width="2.8" height="2.8"/></g>
<rect x="319.2" y="2064.3" width="2.6" height="2.6" fill="#222"/>
<text x="320.5" y="2075.4" font-size="8.3" fill="#4d4d4d" text-anchor="middle">−30</text>
<rect x="395.4" y="2064.3" width="2.6" height="2.6" fill="#222"/>
<text x="396.7" y="2075.4" font-size="8.3" fill="#4d4d4d" text-anchor="middle">−20</text>
<rect x="471.6" y="2064.3" width="2.6" height="2.6" fill="#222"/>
<text x="472.9" y="2075.4" font-size="8.3" fill="#4d4d4d" text-anchor="middle">−10</text>
<rect x="547.8" y="2064.3" width="2.6" height="2.6" fill="#222"/>
<text x="549.1" y="2075.4" font-size="8.3" fill="#4d4d4d" text-anchor="middle">0</text>
<rect x="624.4" y="2064.3" width="2.6" height="2.6" fill="#222"/>
<text x="625.7" y="2075.4" font-size="8.3" fill="#4d4d4d" text-anchor="middle">10</text>
<text x="291.5" y="2093.4" font-size="16" fill="#000" textLength="350.0" lengthAdjust="spacingAndGlyphs">t value of GSVA score -CD8 T cell (ADT+ vs ADT-)</text>
<rect x="12.5" y="2014.2" width="244.60000000000002" height="24.899999999999864" fill="none" stroke="#f5141c" stroke-width="2.6"/>
</svg>
</body></html>
